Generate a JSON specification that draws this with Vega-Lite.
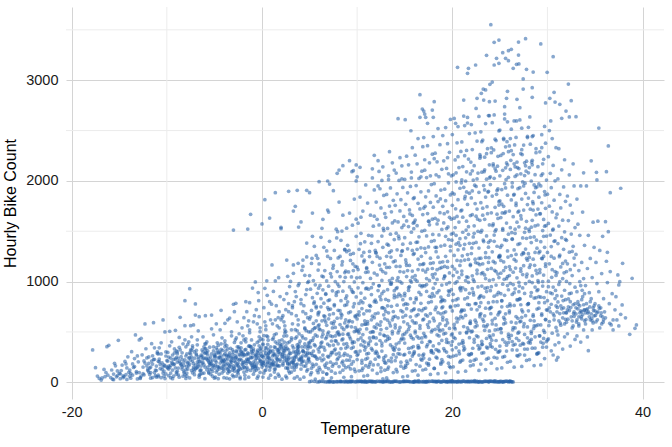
{
"$schema": "https://vega.github.io/schema/vega-lite/v6.json",
"width": 598,
"height": 392,
"autosize": {"type": "none"},
"padding": {"left": 66, "top": 7, "right": 8, "bottom": 48},
"config": {
"view": {"stroke": null},
"axis": {"domain": false, "ticks": false, "tickSize": 0, "labelFont": "Liberation Sans", "labelFontSize": 14.5, "labelColor": "#1a1a1a", "titleFont": "Liberation Sans", "titleFontSize": 16, "titleFontWeight": "normal", "titleColor": "#000000", "gridColor": "#d4d4d4", "gridWidth": 1, "labelExpr": "'' + datum.value"},
"axisX": {"labelPadding": 6, "titlePadding": 2},
"axisY": {"labelPadding": 8, "titlePadding": 7}
},
"layer": [
{
"data": {"values": [{"t": -10}, {"t": 10}, {"t": 30}]},
"mark": {"type": "rule", "color": "#ececec", "strokeWidth": 1},
"encoding": {"x": {"field": "t", "type": "quantitative", "title": "Temperature", "scale": {"domain": [-20.6, 42.25], "nice": false, "zero": false}, "axis": {"values": [-20, 0, 20, 40], "grid": true}}}
},
{
"data": {"values": [{"c": 500}, {"c": 1500}, {"c": 2500}, {"c": 3500}]},
"mark": {"type": "rule", "color": "#ececec", "strokeWidth": 1},
"encoding": {"y": {"field": "c", "type": "quantitative", "title": "Hourly Bike Count", "scale": {"domain": [-166, 3727], "nice": false, "zero": false}, "axis": {"values": [0, 1000, 2000, 3000], "grid": true}}}
},
{
"data": {"values": [
{"t":-17.8,"c":321},{"t":-17.5,"c":145},{"t":-17.3,"c":62},{"t":-17.1,"c":38},
{"t":-16.8,"c":43},{"t":-16.4,"c":97},{"t":-16.3,"c":354},{"t":-16.1,"c":367},{"t":-16.6,"c":128},{"t":-16.2,"c":71},{"t":-16.9,"c":22},{"t":-16.5,"c":56},
{"t":-15.9,"c":47},{"t":-15.2,"c":113},{"t":-15.6,"c":82},{"t":-15.4,"c":163},{"t":-15.1,"c":417},{"t":-15.7,"c":31},{"t":-15.3,"c":54},{"t":-15.8,"c":122},{"t":-15.5,"c":188},{"t":-15.0,"c":89},{"t":-15.6,"c":26},{"t":-15.2,"c":67},
{"t":-14.6,"c":63},{"t":-14.2,"c":142},{"t":-14.9,"c":36},{"t":-14.4,"c":207},{"t":-14.0,"c":99},{"t":-14.7,"c":171},{"t":-14.3,"c":76},{"t":-14.8,"c":117},{"t":-14.1,"c":253},{"t":-14.5,"c":57},{"t":-14.3,"c":182},{"t":-14.9,"c":84},{"t":-14.6,"c":45},{"t":-14.2,"c":28},
{"t":-13.2,"c":91},{"t":-13.8,"c":41},{"t":-13.4,"c":156},{"t":-13.3,"c":470},{"t":-13.9,"c":121},{"t":-13.1,"c":262},{"t":-13.6,"c":72},{"t":-13.0,"c":203},{"t":-13.7,"c":304},{"t":-13.5,"c":147},{"t":-13.2,"c":106},{"t":-13.9,"c":61},{"t":-13.4,"c":236},{"t":-13.6,"c":182},{"t":-13.1,"c":33},{"t":-13.8,"c":88},
{"t":-12.9,"c":420},{"t":-12.7,"c":437},{"t":-12.3,"c":579},{"t":-12.5,"c":86},{"t":-12.1,"c":162},{"t":-12.8,"c":46},{"t":-12.4,"c":212},{"t":-12.0,"c":131},{"t":-12.6,"c":273},{"t":-12.2,"c":333},{"t":-12.9,"c":96},{"t":-12.3,"c":191},{"t":-12.7,"c":62},{"t":-12.1,"c":242},{"t":-12.5,"c":151},{"t":-12.0,"c":116},{"t":-12.8,"c":38},{"t":-12.4,"c":74},
{"t":-11.4,"c":592},{"t":-11.8,"c":141},{"t":-11.2,"c":66},{"t":-11.6,"c":211},{"t":-11.0,"c":302},{"t":-11.5,"c":181},{"t":-11.9,"c":252},{"t":-11.3,"c":96},{"t":-11.7,"c":41},{"t":-11.1,"c":161},{"t":-11.6,"c":383},{"t":-11.2,"c":122},{"t":-11.8,"c":77},{"t":-11.0,"c":286},{"t":-11.4,"c":226},{"t":-11.7,"c":151},{"t":-11.3,"c":342},{"t":-11.9,"c":101},{"t":-11.1,"c":52},{"t":-11.5,"c":47},
{"t":-10.4,"c":619},{"t":-10.2,"c":500},{"t":-10.7,"c":136},{"t":-10.1,"c":261},{"t":-10.9,"c":71},{"t":-10.5,"c":192},{"t":-10.3,"c":111},{"t":-10.8,"c":342},{"t":-10.0,"c":216},{"t":-10.6,"c":46},{"t":-10.2,"c":162},{"t":-10.9,"c":281},{"t":-10.4,"c":91},{"t":-10.7,"c":176},{"t":-10.1,"c":302},{"t":-10.5,"c":126},{"t":-10.8,"c":231},{"t":-10.3,"c":61},{"t":-10.6,"c":392},{"t":-10.0,"c":151},{"t":-10.2,"c":37},{"t":-10.9,"c":208},
{"t":-9.7,"c":506},{"t":-9.1,"c":516},{"t":-9.4,"c":121},{"t":-9.8,"c":251},{"t":-9.2,"c":181},{"t":-9.6,"c":91},{"t":-9.0,"c":311},{"t":-9.5,"c":201},{"t":-9.9,"c":141},{"t":-9.3,"c":61},{"t":-9.7,"c":362},{"t":-9.1,"c":231},{"t":-9.8,"c":161},{"t":-9.4,"c":271},{"t":-9.0,"c":101},{"t":-9.6,"c":46},{"t":-9.2,"c":331},{"t":-9.9,"c":211},{"t":-9.5,"c":402},{"t":-9.3,"c":176},{"t":-9.8,"c":131},{"t":-9.0,"c":81},{"t":-9.6,"c":241},{"t":-9.2,"c":291},{"t":-9.4,"c":36},{"t":-9.7,"c":148},
{"t":-8.6,"c":645},{"t":-8.1,"c":810},{"t":-8.1,"c":562},{"t":-8.4,"c":152},{"t":-8.9,"c":281},{"t":-8.2,"c":96},{"t":-8.7,"c":211},{"t":-8.0,"c":352},{"t":-8.5,"c":171},{"t":-8.3,"c":61},{"t":-8.8,"c":241},{"t":-8.1,"c":422},{"t":-8.6,"c":191},{"t":-8.4,"c":131},{"t":-8.9,"c":302},{"t":-8.2,"c":111},{"t":-8.7,"c":51},{"t":-8.0,"c":261},{"t":-8.5,"c":181},{"t":-8.3,"c":382},{"t":-8.8,"c":141},{"t":-8.6,"c":322},{"t":-8.1,"c":76},{"t":-8.4,"c":226},{"t":-8.9,"c":201},{"t":-8.2,"c":166},{"t":-8.7,"c":445},{"t":-8.0,"c":38},
{"t":-7.6,"c":929},{"t":-7.5,"c":562},{"t":-7.2,"c":569},{"t":-7.0,"c":778},{"t":-7.0,"c":668},{"t":-7.3,"c":211},{"t":-7.8,"c":131},{"t":-7.1,"c":301},{"t":-7.6,"c":181},{"t":-7.9,"c":91},{"t":-7.4,"c":251},{"t":-7.7,"c":402},{"t":-7.2,"c":151},{"t":-7.5,"c":221},{"t":-7.9,"c":61},{"t":-7.3,"c":342},{"t":-7.8,"c":201},{"t":-7.1,"c":111},{"t":-7.6,"c":291},{"t":-7.4,"c":452},{"t":-7.7,"c":241},{"t":-7.0,"c":171},{"t":-7.5,"c":321},{"t":-7.2,"c":131},{"t":-7.9,"c":281},{"t":-7.3,"c":362},{"t":-7.8,"c":191},{"t":-7.1,"c":76},{"t":-7.6,"c":43},{"t":-7.4,"c":118},
{"t":-6.6,"c":652},{"t":-6.2,"c":231},{"t":-6.7,"c":161},{"t":-6.0,"c":331},{"t":-6.5,"c":121},{"t":-6.9,"c":271},{"t":-6.3,"c":191},{"t":-6.8,"c":422},{"t":-6.1,"c":91},{"t":-6.4,"c":251},{"t":-6.7,"c":181},{"t":-6.0,"c":382},{"t":-6.5,"c":211},{"t":-6.9,"c":141},{"t":-6.2,"c":301},{"t":-6.6,"c":71},{"t":-6.3,"c":261},{"t":-6.8,"c":201},{"t":-6.1,"c":352},{"t":-6.4,"c":161},{"t":-6.9,"c":281},{"t":-6.5,"c":111},{"t":-6.2,"c":452},{"t":-6.7,"c":231},{"t":-6.0,"c":151},{"t":-6.3,"c":321},{"t":-6.6,"c":51},{"t":-6.1,"c":241},{"t":-6.8,"c":372},{"t":-6.4,"c":121},{"t":-6.0,"c":36},{"t":-6.7,"c":511},
{"t":-5.95,"c":661},{"t":-5.3,"c":668},{"t":-5.2,"c":221},{"t":-5.7,"c":151},{"t":-5.1,"c":311},{"t":-5.6,"c":101},{"t":-5.0,"c":261},{"t":-5.4,"c":181},{"t":-5.8,"c":402},{"t":-5.3,"c":131},{"t":-5.9,"c":241},{"t":-5.5,"c":191},{"t":-5.1,"c":352},{"t":-5.6,"c":201},{"t":-5.0,"c":141},{"t":-5.8,"c":291},{"t":-5.2,"c":61},{"t":-5.7,"c":271},{"t":-5.4,"c":211},{"t":-5.9,"c":332},{"t":-5.5,"c":171},{"t":-5.3,"c":281},{"t":-5.6,"c":91},{"t":-5.1,"c":472},{"t":-5.8,"c":231},{"t":-5.2,"c":161},{"t":-5.7,"c":311},{"t":-5.0,"c":41},{"t":-5.4,"c":251},{"t":-5.9,"c":382},{"t":-5.5,"c":126},{"t":-5.3,"c":531},
{"t":-4.3,"c":715},{"t":-4.8,"c":201},{"t":-4.2,"c":141},{"t":-4.6,"c":291},{"t":-4.0,"c":111},{"t":-4.5,"c":251},{"t":-4.9,"c":171},{"t":-4.3,"c":382},{"t":-4.7,"c":121},{"t":-4.1,"c":231},{"t":-4.4,"c":191},{"t":-4.8,"c":342},{"t":-4.2,"c":211},{"t":-4.6,"c":151},{"t":-4.0,"c":271},{"t":-4.5,"c":81},{"t":-4.9,"c":261},{"t":-4.3,"c":221},{"t":-4.7,"c":322},{"t":-4.1,"c":161},{"t":-4.4,"c":291},{"t":-4.8,"c":101},{"t":-4.2,"c":442},{"t":-4.6,"c":241},{"t":-4.0,"c":171},{"t":-4.5,"c":301},{"t":-4.9,"c":51},{"t":-4.3,"c":261},{"t":-4.7,"c":392},{"t":-4.1,"c":131},{"t":-4.4,"c":521},{"t":-4.8,"c":581},{"t":-4.0,"c":46},{"t":-4.6,"c":36},
{"t":-3.9,"c":586},{"t":-3.4,"c":638},{"t":-3.0,"c":775},{"t":-3.0,"c":1512},{"t":-3.6,"c":231},{"t":-3.2,"c":151},{"t":-3.8,"c":311},{"t":-3.1,"c":121},{"t":-3.7,"c":271},{"t":-3.3,"c":181},{"t":-3.9,"c":412},{"t":-3.5,"c":111},{"t":-3.0,"c":241},{"t":-3.6,"c":331},{"t":-3.2,"c":201},{"t":-3.8,"c":141},{"t":-3.4,"c":291},{"t":-3.1,"c":71},{"t":-3.7,"c":261},{"t":-3.3,"c":211},{"t":-3.9,"c":352},{"t":-3.5,"c":171},{"t":-3.0,"c":301},{"t":-3.6,"c":91},{"t":-3.2,"c":462},{"t":-3.8,"c":231},{"t":-3.4,"c":161},{"t":-3.1,"c":321},{"t":-3.7,"c":41},{"t":-3.3,"c":251},{"t":-3.9,"c":382},{"t":-3.5,"c":141},{"t":-3.2,"c":501},{"t":-3.6,"c":621},{"t":-3.0,"c":56},{"t":-3.4,"c":34},
{"t":-2.75,"c":784},{"t":-2.4,"c":221},{"t":-2.9,"c":141},{"t":-2.2,"c":301},{"t":-2.6,"c":101},{"t":-2.0,"c":261},{"t":-2.5,"c":191},{"t":-2.8,"c":422},{"t":-2.3,"c":131},{"t":-2.7,"c":251},{"t":-2.1,"c":181},{"t":-2.6,"c":352},{"t":-2.9,"c":211},{"t":-2.4,"c":151},{"t":-2.0,"c":291},{"t":-2.7,"c":61},{"t":-2.3,"c":271},{"t":-2.8,"c":201},{"t":-2.2,"c":342},{"t":-2.5,"c":161},{"t":-2.1,"c":281},{"t":-2.9,"c":111},{"t":-2.4,"c":482},{"t":-2.6,"c":231},{"t":-2.0,"c":171},{"t":-2.7,"c":311},{"t":-2.3,"c":51},{"t":-2.8,"c":241},{"t":-2.2,"c":392},{"t":-2.5,"c":121},{"t":-2.1,"c":541},{"t":-2.6,"c":601},{"t":-2.9,"c":701},{"t":-2.0,"c":461},{"t":-2.4,"c":331},{"t":-2.7,"c":441},{"t":-2.3,"c":36},{"t":-2.5,"c":86},
{"t":-1.5,"c":1522},{"t":-1.2,"c":1668},{"t":-1.7,"c":800},{"t":-1.3,"c":790},{"t":-1.0,"c":936},{"t":-1.4,"c":231},{"t":-1.9,"c":151},{"t":-1.1,"c":321},{"t":-1.6,"c":111},{"t":-1.8,"c":271},{"t":-1.2,"c":191},{"t":-1.7,"c":432},{"t":-1.5,"c":131},{"t":-1.0,"c":251},{"t":-1.3,"c":361},{"t":-1.9,"c":201},{"t":-1.6,"c":151},{"t":-1.1,"c":301},{"t":-1.8,"c":71},{"t":-1.4,"c":281},{"t":-1.7,"c":211},{"t":-1.2,"c":352},{"t":-1.0,"c":171},{"t":-1.5,"c":291},{"t":-1.9,"c":101},{"t":-1.3,"c":492},{"t":-1.6,"c":231},{"t":-1.1,"c":171},{"t":-1.8,"c":321},{"t":-1.4,"c":51},{"t":-1.2,"c":251},{"t":-1.7,"c":402},{"t":-1.0,"c":141},{"t":-1.5,"c":561},{"t":-1.9,"c":641},{"t":-1.3,"c":521},{"t":-1.6,"c":701},{"t":-1.1,"c":421},{"t":-1.8,"c":36},{"t":-1.4,"c":611},
{"t":-0.7,"c":996},{"t":-0.35,"c":810},{"t":-0.4,"c":241},{"t":-0.8,"c":161},{"t":-0.2,"c":331},{"t":-0.6,"c":121},{"t":-0.1,"c":281},{"t":-0.9,"c":201},{"t":-0.3,"c":452},{"t":-0.7,"c":141},{"t":0.0,"c":261},{"t":-0.5,"c":191},{"t":-0.8,"c":372},{"t":-0.2,"c":211},{"t":-0.6,"c":161},{"t":-0.1,"c":311},{"t":-0.9,"c":81},{"t":-0.4,"c":291},{"t":-0.7,"c":221},{"t":-0.3,"c":362},{"t":0.0,"c":181},{"t":-0.5,"c":301},{"t":-0.8,"c":111},{"t":-0.2,"c":502},{"t":-0.6,"c":241},{"t":-0.1,"c":181},{"t":-0.9,"c":331},{"t":-0.4,"c":61},{"t":-0.7,"c":261},{"t":-0.3,"c":412},{"t":0.0,"c":151},{"t":-0.5,"c":581},{"t":-0.8,"c":661},{"t":-0.2,"c":541},{"t":-0.6,"c":721},{"t":-0.1,"c":431},{"t":-0.9,"c":601},{"t":-0.4,"c":891},{"t":0.0,"c":1572},{"t":-0.3,"c":651},{"t":-0.5,"c":41},{"t":-0.2,"c":98},
{"t":0.3,"c":1813},{"t":0.8,"c":1631},{"t":0.3,"c":933},{"t":0.55,"c":864},{"t":0.8,"c":800},{"t":0.6,"c":251},{"t":0.1,"c":171},{"t":0.9,"c":352},{"t":0.4,"c":121},{"t":0.7,"c":291},{"t":0.2,"c":211},{"t":0.5,"c":462},{"t":0.9,"c":151},{"t":0.3,"c":271},{"t":0.6,"c":201},{"t":0.1,"c":382},{"t":0.8,"c":221},{"t":0.4,"c":171},{"t":0.7,"c":321},{"t":0.2,"c":91},{"t":0.9,"c":301},{"t":0.5,"c":231},{"t":0.1,"c":372},{"t":0.6,"c":191},{"t":0.3,"c":311},{"t":0.8,"c":121},{"t":0.4,"c":522},{"t":0.7,"c":251},{"t":0.2,"c":191},{"t":0.5,"c":341},{"t":0.9,"c":71},{"t":0.6,"c":271},{"t":0.1,"c":422},{"t":0.8,"c":161},{"t":0.3,"c":601},{"t":0.7,"c":681},{"t":0.4,"c":561},{"t":0.2,"c":741},{"t":0.6,"c":451},{"t":0.9,"c":621},{"t":0.5,"c":1008},{"t":0.1,"c":52},{"t":0.7,"c":41},
{"t":1.05,"c":1165},{"t":1.4,"c":1883},{"t":1.4,"c":1006},{"t":1.75,"c":1039},{"t":1.6,"c":261},{"t":1.2,"c":181},{"t":1.9,"c":362},{"t":1.3,"c":131},{"t":1.8,"c":301},{"t":1.1,"c":221},{"t":1.5,"c":482},{"t":1.7,"c":161},{"t":1.2,"c":281},{"t":1.9,"c":211},{"t":1.4,"c":402},{"t":1.6,"c":231},{"t":1.1,"c":181},{"t":1.8,"c":331},{"t":1.3,"c":101},{"t":1.7,"c":321},{"t":1.5,"c":241},{"t":1.9,"c":382},{"t":1.2,"c":201},{"t":1.6,"c":321},{"t":1.4,"c":131},{"t":1.8,"c":541},{"t":1.1,"c":261},{"t":1.5,"c":201},{"t":1.3,"c":351},{"t":1.7,"c":81},{"t":1.9,"c":281},{"t":1.2,"c":441},{"t":1.6,"c":171},{"t":1.4,"c":621},{"t":1.8,"c":701},{"t":1.1,"c":581},{"t":1.5,"c":761},{"t":1.3,"c":471},{"t":1.7,"c":641},{"t":1.9,"c":851},{"t":2.0,"c":1525},{"t":2.0,"c":1539},{"t":1.2,"c":902},{"t":1.6,"c":561},{"t":1.4,"c":46},{"t":1.8,"c":61},{"t":1.0,"c":776},
{"t":2.6,"c":1214},{"t":2.8,"c":1897},{"t":2.4,"c":271},{"t":2.9,"c":191},{"t":2.1,"c":372},{"t":2.7,"c":141},{"t":2.3,"c":311},{"t":2.8,"c":231},{"t":2.5,"c":502},{"t":2.2,"c":171},{"t":2.9,"c":291},{"t":2.6,"c":221},{"t":2.1,"c":422},{"t":2.4,"c":241},{"t":2.7,"c":191},{"t":2.3,"c":341},{"t":2.8,"c":111},{"t":2.5,"c":331},{"t":2.2,"c":251},{"t":2.9,"c":402},{"t":2.6,"c":211},{"t":2.1,"c":331},{"t":2.7,"c":141},{"t":2.4,"c":561},{"t":2.8,"c":271},{"t":2.3,"c":211},{"t":2.5,"c":361},{"t":2.9,"c":91},{"t":2.2,"c":291},{"t":2.6,"c":461},{"t":2.7,"c":181},{"t":2.1,"c":641},{"t":2.5,"c":721},{"t":2.3,"c":601},{"t":2.8,"c":781},{"t":2.4,"c":491},{"t":2.2,"c":661},{"t":2.6,"c":881},{"t":2.9,"c":951},{"t":2.7,"c":1052},{"t":2.3,"c":821},{"t":2.5,"c":61},{"t":2.1,"c":31},{"t":2.8,"c":701},{"t":2.4,"c":521},{"t":2.0,"c":621},{"t":2.6,"c":43},
{"t":3.3,"c":1701},{"t":3.5,"c":1748},{"t":3.3,"c":1165},{"t":3.8,"c":1182},{"t":3.7,"c":1907},{"t":3.85,"c":1542},{"t":3.6,"c":281},{"t":3.1,"c":201},{"t":3.9,"c":382},{"t":3.4,"c":151},{"t":3.8,"c":321},{"t":3.2,"c":241},{"t":3.5,"c":522},{"t":3.7,"c":181},{"t":3.3,"c":301},{"t":3.9,"c":231},{"t":3.1,"c":442},{"t":3.6,"c":251},{"t":3.2,"c":201},{"t":3.8,"c":351},{"t":3.4,"c":121},{"t":3.7,"c":341},{"t":3.5,"c":261},{"t":3.1,"c":422},{"t":3.9,"c":221},{"t":3.3,"c":341},{"t":3.6,"c":151},{"t":3.2,"c":581},{"t":3.8,"c":281},{"t":3.4,"c":221},{"t":3.7,"c":371},{"t":3.1,"c":101},{"t":3.5,"c":301},{"t":3.9,"c":481},{"t":3.3,"c":191},{"t":3.6,"c":661},{"t":3.2,"c":741},{"t":3.8,"c":621},{"t":3.4,"c":801},{"t":3.7,"c":511},{"t":3.1,"c":681},{"t":3.5,"c":901},{"t":3.9,"c":981},{"t":3.3,"c":1082},{"t":3.6,"c":851},{"t":3.4,"c":41},{"t":3.8,"c":961},{"t":3.2,"c":761},{"t":3.0,"c":1002},{"t":3.7,"c":56},
{"t":4.1,"c":1592},{"t":4.3,"c":1214},{"t":4.7,"c":1907},{"t":4.7,"c":1383},{"t":5.0,"c":1883},{"t":4.6,"c":291},{"t":4.2,"c":211},{"t":4.9,"c":392},{"t":4.4,"c":161},{"t":4.8,"c":331},{"t":4.1,"c":251},{"t":4.5,"c":541},{"t":4.7,"c":191},{"t":4.3,"c":311},{"t":4.9,"c":241},{"t":4.2,"c":461},{"t":4.6,"c":261},{"t":4.4,"c":211},{"t":4.8,"c":361},{"t":4.1,"c":131},{"t":4.5,"c":351},{"t":4.7,"c":271},{"t":4.3,"c":441},{"t":4.9,"c":231},{"t":4.2,"c":351},{"t":4.6,"c":161},{"t":4.4,"c":601},{"t":4.8,"c":291},{"t":4.1,"c":231},{"t":4.5,"c":381},{"t":4.7,"c":111},{"t":4.3,"c":311},{"t":4.9,"c":501},{"t":4.2,"c":201},{"t":4.6,"c":681},{"t":4.4,"c":761},{"t":4.8,"c":641},{"t":4.1,"c":821},{"t":4.5,"c":531},{"t":4.3,"c":701},{"t":4.7,"c":921},{"t":4.9,"c":1002},{"t":4.2,"c":1112},{"t":4.6,"c":871},{"t":4.4,"c":51},{"t":4.8,"c":991},{"t":4.1,"c":781},{"t":4.5,"c":1062},{"t":4.3,"c":1151},{"t":4.0,"c":31},{"t":4.7,"c":1245},
{"t":5.3,"c":1681},{"t":5.25,"c":1231},{"t":5.85,"c":1231},{"t":5.6,"c":32},{"t":5.1,"c":75},{"t":5.8,"c":118},{"t":5.4,"c":160},{"t":5.0,"c":203},{"t":5.7,"c":245},{"t":5.2,"c":288},{"t":5.9,"c":330},{"t":5.5,"c":373},{"t":5.3,"c":415},{"t":5.8,"c":458},{"t":5.1,"c":500},{"t":5.6,"c":543},{"t":5.4,"c":585},{"t":5.0,"c":628},{"t":5.9,"c":670},{"t":5.2,"c":713},{"t":5.7,"c":755},{"t":5.5,"c":798},{"t":5.3,"c":840},{"t":5.8,"c":883},{"t":5.1,"c":925},{"t":5.6,"c":968},{"t":5.4,"c":1010},{"t":5.0,"c":1060},{"t":5.9,"c":1115},{"t":5.2,"c":1180},{"t":5.7,"c":1260},{"t":5.5,"c":1350},{"t":5.3,"c":1450},{"t":5.2,"c":140},{"t":5.8,"c":230},{"t":5.4,"c":310},{"t":5.0,"c":390},{"t":5.6,"c":470},{"t":5.9,"c":560},{"t":5.1,"c":650},{"t":5.7,"c":740},{"t":5.3,"c":180},{"t":5.5,"c":260},{"t":5.0,"c":6},{"t":5.5,"c":10},{"t":5.8,"c":4},{"t":5.2,"c":12},{"t":5.6,"c":260},{"t":5.9,"c":95},{"t":5.4,"c":440},{"t":5.1,"c":350},{"t":5.7,"c":610},{"t":5.3,"c":520},
{"t":6.0,"c":1992},{"t":6.9,"c":1999},{"t":6.3,"c":1529},{"t":6.4,"c":1619},{"t":6.9,"c":1711},{"t":6.8,"c":1304},{"t":6.4,"c":38},{"t":6.8,"c":82},{"t":6.1,"c":126},{"t":6.6,"c":170},{"t":6.3,"c":214},{"t":6.9,"c":258},{"t":6.0,"c":302},{"t":6.5,"c":346},{"t":6.2,"c":390},{"t":6.7,"c":434},{"t":6.4,"c":478},{"t":6.1,"c":522},{"t":6.8,"c":566},{"t":6.3,"c":610},{"t":6.6,"c":654},{"t":6.0,"c":698},{"t":6.9,"c":742},{"t":6.5,"c":786},{"t":6.2,"c":830},{"t":6.7,"c":874},{"t":6.4,"c":918},{"t":6.1,"c":962},{"t":6.8,"c":1006},{"t":6.3,"c":1055},{"t":6.6,"c":1110},{"t":6.0,"c":1175},{"t":6.9,"c":1250},{"t":6.5,"c":1340},{"t":6.2,"c":1440},{"t":6.7,"c":150},{"t":6.1,"c":240},{"t":6.6,"c":320},{"t":6.3,"c":400},{"t":6.9,"c":480},{"t":6.0,"c":570},{"t":6.5,"c":660},{"t":6.2,"c":750},{"t":6.8,"c":190},{"t":6.4,"c":270},{"t":6.0,"c":5},{"t":6.3,"c":9},{"t":6.7,"c":3},{"t":6.1,"c":11},{"t":6.5,"c":7},{"t":6.9,"c":4},{"t":6.4,"c":100},{"t":6.8,"c":450},{"t":6.2,"c":360},{"t":6.6,"c":620},{"t":6.0,"c":530},{"t":6.7,"c":880},
{"t":7.1,"c":1969},{"t":7.0,"c":1691},{"t":7.5,"c":1903},{"t":7.85,"c":1433},{"t":7.95,"c":1496},{"t":7.9,"c":2075},{"t":7.3,"c":44},{"t":7.7,"c":90},{"t":7.0,"c":135},{"t":7.5,"c":181},{"t":7.9,"c":226},{"t":7.2,"c":272},{"t":7.6,"c":317},{"t":7.1,"c":363},{"t":7.8,"c":408},{"t":7.4,"c":454},{"t":7.0,"c":499},{"t":7.7,"c":545},{"t":7.3,"c":590},{"t":7.9,"c":636},{"t":7.5,"c":681},{"t":7.2,"c":727},{"t":7.6,"c":772},{"t":7.1,"c":818},{"t":7.8,"c":863},{"t":7.4,"c":909},{"t":7.0,"c":954},{"t":7.7,"c":1000},{"t":7.3,"c":1048},{"t":7.9,"c":1100},{"t":7.5,"c":1160},{"t":7.2,"c":1230},{"t":7.6,"c":1310},{"t":7.1,"c":1400},{"t":7.8,"c":1520},{"t":7.4,"c":160},{"t":7.0,"c":250},{"t":7.7,"c":330},{"t":7.3,"c":410},{"t":7.9,"c":490},{"t":7.5,"c":580},{"t":7.1,"c":670},{"t":7.6,"c":760},{"t":7.2,"c":200},{"t":7.8,"c":280},{"t":7.4,"c":5},{"t":7.0,"c":9},{"t":7.6,"c":3},{"t":7.2,"c":12},{"t":7.8,"c":7},{"t":7.5,"c":4},{"t":7.1,"c":10},{"t":7.9,"c":6},{"t":7.3,"c":110},{"t":7.7,"c":460},{"t":7.5,"c":370},{"t":7.0,"c":630},{"t":7.4,"c":540},{"t":7.8,"c":890},{"t":7.2,"c":1080},
{"t":8.1,"c":2108},{"t":8.5,"c":2151},{"t":8.4,"c":1502},{"t":8.7,"c":1314},{"t":8.9,"c":1297},{"t":8.6,"c":50},{"t":8.2,"c":98},{"t":8.8,"c":145},{"t":8.4,"c":193},{"t":8.0,"c":240},{"t":8.7,"c":288},{"t":8.3,"c":335},{"t":8.9,"c":383},{"t":8.5,"c":430},{"t":8.1,"c":478},{"t":8.6,"c":525},{"t":8.2,"c":573},{"t":8.8,"c":620},{"t":8.4,"c":668},{"t":8.0,"c":715},{"t":8.7,"c":763},{"t":8.3,"c":810},{"t":8.9,"c":858},{"t":8.5,"c":905},{"t":8.1,"c":953},{"t":8.6,"c":1000},{"t":8.2,"c":1050},{"t":8.8,"c":1105},{"t":8.4,"c":1165},{"t":8.0,"c":1235},{"t":8.7,"c":1320},{"t":8.3,"c":1410},{"t":8.9,"c":1530},{"t":8.5,"c":1660},{"t":8.1,"c":1790},{"t":8.6,"c":170},{"t":8.2,"c":260},{"t":8.8,"c":340},{"t":8.4,"c":420},{"t":8.0,"c":500},{"t":8.7,"c":590},{"t":8.3,"c":680},{"t":8.9,"c":770},{"t":8.5,"c":210},{"t":8.1,"c":290},{"t":8.0,"c":6},{"t":8.3,"c":10},{"t":8.6,"c":4},{"t":8.9,"c":12},{"t":8.2,"c":8},{"t":8.8,"c":3},{"t":8.4,"c":7},{"t":8.7,"c":11},{"t":8.5,"c":120},{"t":8.1,"c":470},{"t":8.6,"c":380},{"t":8.3,"c":640},{"t":8.9,"c":550},{"t":8.0,"c":900},{"t":8.7,"c":1090},{"t":8.2,"c":1250},
{"t":9.2,"c":2201},{"t":9.45,"c":2091},{"t":9.9,"c":2000},{"t":9.6,"c":2101},{"t":9.9,"c":2158},{"t":9.4,"c":56},{"t":9.8,"c":106},{"t":9.1,"c":155},{"t":9.6,"c":205},{"t":9.3,"c":254},{"t":9.9,"c":304},{"t":9.0,"c":353},{"t":9.5,"c":403},{"t":9.2,"c":452},{"t":9.7,"c":502},{"t":9.4,"c":551},{"t":9.1,"c":601},{"t":9.8,"c":650},{"t":9.3,"c":700},{"t":9.6,"c":749},{"t":9.0,"c":799},{"t":9.9,"c":848},{"t":9.5,"c":898},{"t":9.2,"c":947},{"t":9.7,"c":997},{"t":9.4,"c":1046},{"t":9.1,"c":1096},{"t":9.8,"c":1150},{"t":9.3,"c":1210},{"t":9.6,"c":1280},{"t":9.0,"c":1360},{"t":9.9,"c":1450},{"t":9.5,"c":1560},{"t":9.2,"c":1680},{"t":9.7,"c":1820},{"t":9.4,"c":180},{"t":9.0,"c":270},{"t":9.6,"c":350},{"t":9.3,"c":430},{"t":9.9,"c":510},{"t":9.5,"c":600},{"t":9.1,"c":690},{"t":9.7,"c":780},{"t":9.2,"c":220},{"t":9.8,"c":300},{"t":9.0,"c":5},{"t":9.4,"c":9},{"t":9.8,"c":3},{"t":9.2,"c":11},{"t":9.6,"c":7},{"t":9.1,"c":4},{"t":9.5,"c":12},{"t":9.9,"c":6},{"t":9.3,"c":8},{"t":9.7,"c":130},{"t":9.1,"c":480},{"t":9.5,"c":390},{"t":9.8,"c":660},{"t":9.0,"c":560},{"t":9.4,"c":920},{"t":9.6,"c":1110},{"t":9.3,"c":1270},{"t":9.9,"c":1620},
{"t":10.3,"c":2135},{"t":10.7,"c":62},{"t":10.2,"c":114},{"t":10.9,"c":165},{"t":10.5,"c":217},{"t":10.0,"c":268},{"t":10.8,"c":320},{"t":10.4,"c":371},{"t":10.1,"c":423},{"t":10.6,"c":474},{"t":10.3,"c":526},{"t":10.9,"c":577},{"t":10.0,"c":629},{"t":10.7,"c":680},{"t":10.5,"c":732},{"t":10.2,"c":783},{"t":10.8,"c":835},{"t":10.4,"c":886},{"t":10.1,"c":938},{"t":10.6,"c":989},{"t":10.3,"c":1041},{"t":10.9,"c":1092},{"t":10.0,"c":1144},{"t":10.7,"c":1196},{"t":10.5,"c":1255},{"t":10.2,"c":1320},{"t":10.8,"c":1395},{"t":10.4,"c":1480},{"t":10.1,"c":1580},{"t":10.6,"c":1700},{"t":10.3,"c":1840},{"t":10.9,"c":1960},{"t":10.5,"c":190},{"t":10.1,"c":280},{"t":10.7,"c":360},{"t":10.4,"c":440},{"t":10.0,"c":520},{"t":10.8,"c":610},{"t":10.2,"c":700},{"t":10.6,"c":790},{"t":10.9,"c":230},{"t":10.3,"c":310},{"t":10.1,"c":6},{"t":10.5,"c":10},{"t":10.9,"c":4},{"t":10.2,"c":8},{"t":10.6,"c":3},{"t":10.0,"c":12},{"t":10.4,"c":7},{"t":10.8,"c":5},{"t":10.3,"c":11},{"t":10.7,"c":9},{"t":10.6,"c":140},{"t":10.2,"c":490},{"t":10.8,"c":400},{"t":10.0,"c":670},{"t":10.5,"c":570},{"t":10.9,"c":930},{"t":10.1,"c":1120},{"t":10.7,"c":1290},{"t":10.4,"c":1640},{"t":10.0,"c":2040},
{"t":11.8,"c":2254},{"t":11.1,"c":68},{"t":11.6,"c":122},{"t":11.3,"c":175},{"t":11.9,"c":229},{"t":11.0,"c":282},{"t":11.5,"c":336},{"t":11.2,"c":389},{"t":11.7,"c":443},{"t":11.4,"c":496},{"t":11.8,"c":550},{"t":11.1,"c":603},{"t":11.6,"c":657},{"t":11.0,"c":710},{"t":11.3,"c":764},{"t":11.9,"c":817},{"t":11.5,"c":871},{"t":11.2,"c":924},{"t":11.7,"c":978},{"t":11.4,"c":1031},{"t":11.8,"c":1085},{"t":11.0,"c":1138},{"t":11.6,"c":1192},{"t":11.3,"c":1248},{"t":11.9,"c":1310},{"t":11.5,"c":1380},{"t":11.2,"c":1460},{"t":11.7,"c":1550},{"t":11.4,"c":1660},{"t":11.1,"c":1780},{"t":11.8,"c":1910},{"t":11.6,"c":2030},{"t":11.4,"c":200},{"t":11.9,"c":290},{"t":11.2,"c":370},{"t":11.7,"c":450},{"t":11.0,"c":530},{"t":11.5,"c":620},{"t":11.3,"c":710},{"t":11.8,"c":800},{"t":11.1,"c":240},{"t":11.6,"c":320},{"t":11.0,"c":5},{"t":11.4,"c":9},{"t":11.8,"c":3},{"t":11.2,"c":11},{"t":11.6,"c":7},{"t":11.1,"c":4},{"t":11.5,"c":12},{"t":11.9,"c":6},{"t":11.3,"c":8},{"t":11.7,"c":10},{"t":11.2,"c":150},{"t":11.7,"c":500},{"t":11.4,"c":410},{"t":11.9,"c":680},{"t":11.1,"c":580},{"t":11.5,"c":940},{"t":11.0,"c":1130},{"t":11.3,"c":1300},{"t":11.8,"c":1650},{"t":11.6,"c":2120},
{"t":12.2,"c":2201},{"t":12.7,"c":35},{"t":12.1,"c":88},{"t":12.5,"c":142},{"t":12.9,"c":197},{"t":12.3,"c":251},{"t":12.0,"c":306},{"t":12.6,"c":362},{"t":12.4,"c":415},{"t":12.8,"c":468},{"t":12.5,"c":523},{"t":12.1,"c":577},{"t":12.9,"c":631},{"t":12.2,"c":688},{"t":12.7,"c":742},{"t":12.0,"c":795},{"t":12.4,"c":851},{"t":12.8,"c":903},{"t":12.3,"c":958},{"t":12.6,"c":1012},{"t":12.1,"c":1066},{"t":12.5,"c":1121},{"t":12.9,"c":1177},{"t":12.4,"c":1232},{"t":12.0,"c":1286},{"t":12.7,"c":1341},{"t":12.2,"c":1398},{"t":12.6,"c":1452},{"t":12.8,"c":1507},{"t":12.3,"c":1563},{"t":12.1,"c":1618},{"t":12.9,"c":1675},{"t":12.5,"c":1731},{"t":12.0,"c":1790},{"t":12.8,"c":1856},{"t":12.4,"c":1922},{"t":12.6,"c":2005},{"t":12.3,"c":2094},{"t":12.9,"c":120},{"t":12.2,"c":260},{"t":12.6,"c":390},{"t":12.0,"c":540},{"t":12.8,"c":670},{"t":12.5,"c":820},{"t":12.3,"c":960},{"t":12.7,"c":1100},{"t":12.1,"c":1250},{"t":12.4,"c":480},{"t":12.9,"c":730},{"t":12.6,"c":310},{"t":12.0,"c":5},{"t":12.3,"c":9},{"t":12.7,"c":3},{"t":12.1,"c":12},{"t":12.5,"c":7},{"t":12.8,"c":4},{"t":12.4,"c":8},{"t":12.9,"c":11},{"t":12.2,"c":1950},{"t":12.7,"c":2140},{"t":12.5,"c":600},{"t":12.2,"c":175},{"t":12.8,"c":220},{"t":12.0,"c":440},{"t":12.6,"c":880},
{"t":13.4,"c":2290},{"t":13.1,"c":45},{"t":13.8,"c":96},{"t":13.3,"c":151},{"t":13.6,"c":205},{"t":13.0,"c":262},{"t":13.9,"c":318},{"t":13.5,"c":371},{"t":13.2,"c":426},{"t":13.7,"c":481},{"t":13.1,"c":536},{"t":13.4,"c":590},{"t":13.8,"c":646},{"t":13.0,"c":702},{"t":13.6,"c":755},{"t":13.3,"c":811},{"t":13.9,"c":866},{"t":13.2,"c":920},{"t":13.5,"c":976},{"t":13.7,"c":1031},{"t":13.0,"c":1085},{"t":13.4,"c":1142},{"t":13.8,"c":1196},{"t":13.1,"c":1251},{"t":13.6,"c":1306},{"t":13.3,"c":1362},{"t":13.9,"c":1417},{"t":13.5,"c":1471},{"t":13.2,"c":1528},{"t":13.7,"c":1583},{"t":13.0,"c":1638},{"t":13.6,"c":1693},{"t":13.4,"c":1750},{"t":13.8,"c":1807},{"t":13.1,"c":1866},{"t":13.5,"c":1930},{"t":13.3,"c":2012},{"t":13.9,"c":2108},{"t":13.7,"c":2180},{"t":13.2,"c":130},{"t":13.8,"c":275},{"t":13.0,"c":410},{"t":13.5,"c":560},{"t":13.3,"c":690},{"t":13.9,"c":840},{"t":13.6,"c":990},{"t":13.1,"c":1140},{"t":13.4,"c":1290},{"t":13.7,"c":505},{"t":13.2,"c":760},{"t":13.8,"c":330},{"t":13.0,"c":7},{"t":13.4,"c":4},{"t":13.8,"c":10},{"t":13.2,"c":6},{"t":13.6,"c":3},{"t":13.9,"c":9},{"t":13.1,"c":12},{"t":13.5,"c":5},{"t":13.3,"c":2050},{"t":13.7,"c":620},{"t":13.0,"c":190},{"t":13.6,"c":240},{"t":13.2,"c":455},{"t":13.9,"c":910},{"t":13.4,"c":1010},
{"t":14.3,"c":2618},{"t":14.8,"c":55},{"t":14.2,"c":104},{"t":14.6,"c":160},{"t":14.0,"c":214},{"t":14.9,"c":271},{"t":14.4,"c":327},{"t":14.1,"c":380},{"t":14.7,"c":435},{"t":14.3,"c":490},{"t":14.5,"c":545},{"t":14.9,"c":600},{"t":14.0,"c":655},{"t":14.6,"c":711},{"t":14.2,"c":766},{"t":14.8,"c":820},{"t":14.4,"c":875},{"t":14.1,"c":930},{"t":14.7,"c":985},{"t":14.3,"c":1040},{"t":14.9,"c":1095},{"t":14.5,"c":1151},{"t":14.0,"c":1205},{"t":14.6,"c":1260},{"t":14.2,"c":1316},{"t":14.8,"c":1371},{"t":14.4,"c":1426},{"t":14.1,"c":1481},{"t":14.7,"c":1536},{"t":14.3,"c":1592},{"t":14.9,"c":1647},{"t":14.5,"c":1702},{"t":14.0,"c":1758},{"t":14.6,"c":1814},{"t":14.2,"c":1872},{"t":14.8,"c":1935},{"t":14.4,"c":2005},{"t":14.1,"c":2078},{"t":14.7,"c":2150},{"t":14.5,"c":2230},{"t":14.9,"c":140},{"t":14.3,"c":285},{"t":14.6,"c":420},{"t":14.0,"c":570},{"t":14.8,"c":700},{"t":14.2,"c":850},{"t":14.5,"c":1000},{"t":14.1,"c":1150},{"t":14.7,"c":1300},{"t":14.4,"c":515},{"t":14.9,"c":770},{"t":14.0,"c":345},{"t":14.2,"c":8},{"t":14.6,"c":5},{"t":14.0,"c":11},{"t":14.4,"c":3},{"t":14.8,"c":7},{"t":14.1,"c":9},{"t":14.5,"c":4},{"t":14.9,"c":12},{"t":14.7,"c":2020},{"t":14.3,"c":640},{"t":14.6,"c":200},{"t":14.1,"c":250},{"t":14.8,"c":470},{"t":14.2,"c":940},{"t":14.5,"c":1100},{"t":14.9,"c":1560},
{"t":15.05,"c":2608},{"t":15.65,"c":2498},{"t":15.3,"c":62},{"t":15.8,"c":112},{"t":15.1,"c":168},{"t":15.6,"c":222},{"t":15.9,"c":280},{"t":15.4,"c":336},{"t":15.0,"c":389},{"t":15.7,"c":445},{"t":15.2,"c":500},{"t":15.5,"c":554},{"t":15.8,"c":610},{"t":15.1,"c":664},{"t":15.9,"c":720},{"t":15.3,"c":775},{"t":15.6,"c":830},{"t":15.0,"c":884},{"t":15.4,"c":940},{"t":15.7,"c":995},{"t":15.2,"c":1050},{"t":15.8,"c":1105},{"t":15.5,"c":1160},{"t":15.1,"c":1215},{"t":15.9,"c":1270},{"t":15.3,"c":1326},{"t":15.6,"c":1381},{"t":15.0,"c":1436},{"t":15.7,"c":1491},{"t":15.4,"c":1546},{"t":15.2,"c":1602},{"t":15.8,"c":1657},{"t":15.5,"c":1712},{"t":15.1,"c":1768},{"t":15.9,"c":1824},{"t":15.3,"c":1882},{"t":15.6,"c":1945},{"t":15.0,"c":2015},{"t":15.7,"c":2088},{"t":15.4,"c":2160},{"t":15.2,"c":2245},{"t":15.8,"c":2330},{"t":15.1,"c":150},{"t":15.5,"c":295},{"t":15.9,"c":430},{"t":15.3,"c":580},{"t":15.7,"c":710},{"t":15.0,"c":860},{"t":15.6,"c":1010},{"t":15.2,"c":1160},{"t":15.8,"c":1310},{"t":15.4,"c":525},{"t":15.1,"c":780},{"t":15.9,"c":355},{"t":15.0,"c":6},{"t":15.4,"c":10},{"t":15.8,"c":3},{"t":15.2,"c":8},{"t":15.6,"c":5},{"t":15.1,"c":11},{"t":15.5,"c":7},{"t":15.9,"c":4},{"t":15.3,"c":9},{"t":15.7,"c":2030},{"t":15.6,"c":650},{"t":15.2,"c":210},{"t":15.8,"c":260},{"t":15.0,"c":480},{"t":15.5,"c":950},{"t":15.3,"c":1110},{"t":15.9,"c":1580},
{"t":16.6,"c":2856},{"t":16.85,"c":2714},{"t":16.6,"c":2631},{"t":16.4,"c":70},{"t":16.9,"c":122},{"t":16.2,"c":176},{"t":16.7,"c":231},{"t":16.0,"c":290},{"t":16.5,"c":344},{"t":16.8,"c":398},{"t":16.3,"c":454},{"t":16.1,"c":509},{"t":16.6,"c":563},{"t":16.9,"c":619},{"t":16.4,"c":673},{"t":16.0,"c":729},{"t":16.7,"c":784},{"t":16.2,"c":839},{"t":16.5,"c":893},{"t":16.8,"c":949},{"t":16.3,"c":1004},{"t":16.1,"c":1059},{"t":16.9,"c":1114},{"t":16.6,"c":1169},{"t":16.4,"c":1224},{"t":16.0,"c":1279},{"t":16.7,"c":1335},{"t":16.2,"c":1390},{"t":16.5,"c":1445},{"t":16.8,"c":1500},{"t":16.3,"c":1555},{"t":16.1,"c":1611},{"t":16.9,"c":1666},{"t":16.6,"c":1721},{"t":16.4,"c":1777},{"t":16.0,"c":1833},{"t":16.7,"c":1891},{"t":16.2,"c":1954},{"t":16.5,"c":2024},{"t":16.8,"c":2097},{"t":16.3,"c":2170},{"t":16.1,"c":2255},{"t":16.9,"c":2340},{"t":16.4,"c":2420},{"t":16.6,"c":160},{"t":16.0,"c":305},{"t":16.8,"c":440},{"t":16.2,"c":590},{"t":16.5,"c":720},{"t":16.7,"c":870},{"t":16.1,"c":1020},{"t":16.9,"c":1170},{"t":16.3,"c":1320},{"t":16.6,"c":535},{"t":16.0,"c":790},{"t":16.4,"c":365},{"t":16.2,"c":7},{"t":16.6,"c":4},{"t":16.0,"c":10},{"t":16.8,"c":6},{"t":16.4,"c":3},{"t":16.1,"c":12},{"t":16.5,"c":8},{"t":16.9,"c":5},{"t":16.3,"c":9},{"t":16.7,"c":2040},{"t":16.2,"c":660},{"t":16.8,"c":220},{"t":16.5,"c":270},{"t":16.1,"c":490},{"t":16.9,"c":960},{"t":16.4,"c":1120},{"t":16.0,"c":1590},
{"t":17.0,"c":2694},{"t":17.1,"c":2664},{"t":17.2,"c":2631},{"t":17.4,"c":2572},{"t":17.9,"c":2704},{"t":17.7,"c":78},{"t":17.2,"c":130},{"t":17.5,"c":185},{"t":17.0,"c":240},{"t":17.8,"c":298},{"t":17.3,"c":353},{"t":17.6,"c":407},{"t":17.1,"c":462},{"t":17.9,"c":517},{"t":17.4,"c":572},{"t":17.0,"c":628},{"t":17.7,"c":682},{"t":17.2,"c":737},{"t":17.5,"c":792},{"t":17.8,"c":847},{"t":17.3,"c":902},{"t":17.1,"c":957},{"t":17.6,"c":1012},{"t":17.9,"c":1068},{"t":17.4,"c":1123},{"t":17.0,"c":1178},{"t":17.7,"c":1233},{"t":17.2,"c":1288},{"t":17.5,"c":1344},{"t":17.8,"c":1399},{"t":17.3,"c":1454},{"t":17.1,"c":1509},{"t":17.6,"c":1564},{"t":17.9,"c":1620},{"t":17.4,"c":1675},{"t":17.0,"c":1730},{"t":17.7,"c":1786},{"t":17.2,"c":1842},{"t":17.5,"c":1900},{"t":17.8,"c":1963},{"t":17.3,"c":2033},{"t":17.1,"c":2106},{"t":17.6,"c":2180},{"t":17.9,"c":2265},{"t":17.4,"c":2350},{"t":17.0,"c":2430},{"t":17.5,"c":170},{"t":17.8,"c":315},{"t":17.2,"c":450},{"t":17.6,"c":600},{"t":17.0,"c":730},{"t":17.9,"c":880},{"t":17.3,"c":1030},{"t":17.7,"c":1180},{"t":17.1,"c":1330},{"t":17.5,"c":545},{"t":17.8,"c":800},{"t":17.4,"c":375},{"t":17.0,"c":8},{"t":17.4,"c":5},{"t":17.8,"c":11},{"t":17.2,"c":3},{"t":17.6,"c":7},{"t":17.9,"c":9},{"t":17.1,"c":4},{"t":17.5,"c":12},{"t":17.3,"c":6},{"t":17.7,"c":2050},{"t":17.2,"c":670},{"t":17.6,"c":230},{"t":17.0,"c":280},{"t":17.8,"c":500},{"t":17.3,"c":970},{"t":17.9,"c":1130},{"t":17.5,"c":1600},{"t":17.1,"c":2210},
{"t":18.1,"c":2787},{"t":18.0,"c":2631},{"t":18.5,"c":86},{"t":18.1,"c":138},{"t":18.8,"c":194},{"t":18.3,"c":249},{"t":18.6,"c":306},{"t":18.0,"c":361},{"t":18.9,"c":416},{"t":18.4,"c":471},{"t":18.2,"c":526},{"t":18.7,"c":581},{"t":18.0,"c":637},{"t":18.5,"c":691},{"t":18.3,"c":746},{"t":18.8,"c":801},{"t":18.1,"c":856},{"t":18.6,"c":911},{"t":18.9,"c":966},{"t":18.4,"c":1021},{"t":18.2,"c":1077},{"t":18.7,"c":1132},{"t":18.0,"c":1187},{"t":18.5,"c":1242},{"t":18.3,"c":1297},{"t":18.8,"c":1353},{"t":18.1,"c":1408},{"t":18.6,"c":1463},{"t":18.9,"c":1518},{"t":18.4,"c":1573},{"t":18.2,"c":1629},{"t":18.7,"c":1684},{"t":18.0,"c":1739},{"t":18.5,"c":1795},{"t":18.3,"c":1851},{"t":18.8,"c":1909},{"t":18.1,"c":1972},{"t":18.6,"c":2042},{"t":18.9,"c":2115},{"t":18.4,"c":2190},{"t":18.2,"c":2275},{"t":18.7,"c":2360},{"t":18.0,"c":2440},{"t":18.5,"c":2520},{"t":18.8,"c":180},{"t":18.3,"c":325},{"t":18.6,"c":460},{"t":18.1,"c":610},{"t":18.9,"c":740},{"t":18.4,"c":890},{"t":18.0,"c":1040},{"t":18.7,"c":1190},{"t":18.2,"c":1340},{"t":18.5,"c":555},{"t":18.9,"c":810},{"t":18.6,"c":385},{"t":18.1,"c":6},{"t":18.5,"c":10},{"t":18.9,"c":3},{"t":18.3,"c":8},{"t":18.7,"c":5},{"t":18.0,"c":11},{"t":18.4,"c":7},{"t":18.8,"c":4},{"t":18.2,"c":9},{"t":18.6,"c":12},{"t":18.3,"c":2060},{"t":18.8,"c":680},{"t":18.4,"c":240},{"t":18.0,"c":290},{"t":18.7,"c":510},{"t":18.2,"c":980},{"t":18.9,"c":1140},{"t":18.5,"c":1610},{"t":18.1,"c":2220},
{"t":19.3,"c":94},{"t":19.8,"c":146},{"t":19.0,"c":203},{"t":19.6,"c":258},{"t":19.2,"c":314},{"t":19.9,"c":370},{"t":19.4,"c":425},{"t":19.1,"c":480},{"t":19.7,"c":535},{"t":19.5,"c":590},{"t":19.0,"c":646},{"t":19.3,"c":700},{"t":19.8,"c":755},{"t":19.2,"c":810},{"t":19.6,"c":865},{"t":19.9,"c":920},{"t":19.4,"c":975},{"t":19.1,"c":1030},{"t":19.7,"c":1086},{"t":19.5,"c":1141},{"t":19.0,"c":1196},{"t":19.3,"c":1251},{"t":19.8,"c":1306},{"t":19.2,"c":1362},{"t":19.6,"c":1417},{"t":19.9,"c":1472},{"t":19.4,"c":1527},{"t":19.1,"c":1582},{"t":19.7,"c":1638},{"t":19.5,"c":1693},{"t":19.0,"c":1748},{"t":19.3,"c":1804},{"t":19.8,"c":1860},{"t":19.2,"c":1918},{"t":19.6,"c":1981},{"t":19.9,"c":2051},{"t":19.4,"c":2124},{"t":19.1,"c":2199},{"t":19.7,"c":2284},{"t":19.5,"c":2369},{"t":19.0,"c":2450},{"t":19.3,"c":2530},{"t":19.8,"c":2610},{"t":19.6,"c":190},{"t":19.1,"c":335},{"t":19.9,"c":470},{"t":19.4,"c":620},{"t":19.0,"c":750},{"t":19.7,"c":900},{"t":19.2,"c":1050},{"t":19.5,"c":1200},{"t":19.8,"c":1350},{"t":19.3,"c":565},{"t":19.0,"c":820},{"t":19.6,"c":395},{"t":19.2,"c":7},{"t":19.6,"c":4},{"t":19.0,"c":10},{"t":19.8,"c":6},{"t":19.4,"c":3},{"t":19.1,"c":12},{"t":19.5,"c":8},{"t":19.9,"c":5},{"t":19.3,"c":9},{"t":19.7,"c":11},{"t":19.6,"c":2070},{"t":19.1,"c":690},{"t":19.8,"c":250},{"t":19.4,"c":300},{"t":19.0,"c":520},{"t":19.7,"c":990},{"t":19.2,"c":1150},{"t":19.9,"c":1620},{"t":19.5,"c":2230},{"t":19.3,"c":1450},
{"t":20.55,"c":3128},{"t":20.35,"c":2572},{"t":20.6,"c":102},{"t":20.1,"c":154},{"t":20.9,"c":212},{"t":20.4,"c":267},{"t":20.0,"c":323},{"t":20.7,"c":379},{"t":20.3,"c":434},{"t":20.8,"c":489},{"t":20.2,"c":544},{"t":20.5,"c":599},{"t":20.9,"c":655},{"t":20.0,"c":709},{"t":20.6,"c":764},{"t":20.4,"c":819},{"t":20.1,"c":874},{"t":20.8,"c":929},{"t":20.3,"c":984},{"t":20.7,"c":1039},{"t":20.5,"c":1095},{"t":20.0,"c":1150},{"t":20.9,"c":1205},{"t":20.2,"c":1260},{"t":20.6,"c":1315},{"t":20.4,"c":1371},{"t":20.8,"c":1426},{"t":20.1,"c":1481},{"t":20.3,"c":1536},{"t":20.7,"c":1591},{"t":20.5,"c":1647},{"t":20.9,"c":1702},{"t":20.0,"c":1757},{"t":20.6,"c":1813},{"t":20.2,"c":1869},{"t":20.8,"c":1927},{"t":20.4,"c":1990},{"t":20.1,"c":2060},{"t":20.7,"c":2133},{"t":20.3,"c":2208},{"t":20.9,"c":2293},{"t":20.5,"c":2378},{"t":20.0,"c":2460},{"t":20.6,"c":2540},{"t":20.2,"c":2620},{"t":20.8,"c":200},{"t":20.4,"c":345},{"t":20.0,"c":480},{"t":20.7,"c":630},{"t":20.3,"c":760},{"t":20.9,"c":910},{"t":20.1,"c":1060},{"t":20.5,"c":1210},{"t":20.8,"c":1360},{"t":20.2,"c":575},{"t":20.6,"c":830},{"t":20.0,"c":405},{"t":20.3,"c":6},{"t":20.7,"c":10},{"t":20.1,"c":3},{"t":20.9,"c":8},{"t":20.5,"c":5},{"t":20.0,"c":11},{"t":20.4,"c":7},{"t":20.8,"c":4},{"t":20.2,"c":9},{"t":20.6,"c":12},{"t":20.0,"c":14},{"t":20.4,"c":2080},{"t":20.9,"c":700},{"t":20.1,"c":260},{"t":20.7,"c":310},{"t":20.3,"c":530},{"t":20.5,"c":1000},{"t":20.8,"c":1160},{"t":20.2,"c":1630},{"t":20.6,"c":2240},{"t":20.4,"c":1460},{"t":20.0,"c":1880},
{"t":21.7,"c":3118},{"t":21.6,"c":3068},{"t":21.2,"c":2803},{"t":21.2,"c":2644},{"t":21.6,"c":2575},{"t":21.4,"c":110},{"t":21.9,"c":163},{"t":21.1,"c":221},{"t":21.7,"c":276},{"t":21.3,"c":332},{"t":21.0,"c":388},{"t":21.8,"c":443},{"t":21.5,"c":498},{"t":21.2,"c":553},{"t":21.9,"c":608},{"t":21.4,"c":664},{"t":21.0,"c":718},{"t":21.6,"c":773},{"t":21.3,"c":828},{"t":21.8,"c":883},{"t":21.1,"c":938},{"t":21.7,"c":993},{"t":21.5,"c":1048},{"t":21.0,"c":1104},{"t":21.9,"c":1159},{"t":21.3,"c":1214},{"t":21.6,"c":1269},{"t":21.2,"c":1324},{"t":21.8,"c":1380},{"t":21.4,"c":1435},{"t":21.1,"c":1490},{"t":21.7,"c":1545},{"t":21.5,"c":1600},{"t":21.9,"c":1656},{"t":21.0,"c":1711},{"t":21.6,"c":1766},{"t":21.3,"c":1822},{"t":21.8,"c":1878},{"t":21.2,"c":1936},{"t":21.4,"c":1999},{"t":21.9,"c":2069},{"t":21.1,"c":2142},{"t":21.7,"c":2217},{"t":21.5,"c":2302},{"t":21.0,"c":2387},{"t":21.8,"c":2470},{"t":21.3,"c":2550},{"t":21.6,"c":2630},{"t":21.9,"c":210},{"t":21.2,"c":355},{"t":21.5,"c":490},{"t":21.1,"c":640},{"t":21.8,"c":770},{"t":21.4,"c":920},{"t":21.0,"c":1070},{"t":21.7,"c":1220},{"t":21.3,"c":1370},{"t":21.9,"c":585},{"t":21.6,"c":840},{"t":21.1,"c":415},{"t":21.4,"c":5},{"t":21.8,"c":9},{"t":21.0,"c":3},{"t":21.6,"c":7},{"t":21.2,"c":11},{"t":21.9,"c":4},{"t":21.5,"c":8},{"t":21.1,"c":12},{"t":21.7,"c":6},{"t":21.3,"c":10},{"t":21.5,"c":2090},{"t":21.0,"c":710},{"t":21.8,"c":270},{"t":21.2,"c":320},{"t":21.6,"c":540},{"t":21.4,"c":1010},{"t":21.9,"c":1170},{"t":21.1,"c":1640},{"t":21.3,"c":2250},{"t":21.7,"c":1470},{"t":21.5,"c":1890},{"t":21.0,"c":2010},
{"t":22.45,"c":3151},{"t":22.6,"c":2820},{"t":22.8,"c":118},{"t":22.2,"c":172},{"t":22.5,"c":230},{"t":22.0,"c":285},{"t":22.9,"c":341},{"t":22.3,"c":397},{"t":22.7,"c":452},{"t":22.1,"c":507},{"t":22.6,"c":562},{"t":22.4,"c":617},{"t":22.9,"c":673},{"t":22.0,"c":727},{"t":22.5,"c":782},{"t":22.8,"c":837},{"t":22.2,"c":892},{"t":22.7,"c":947},{"t":22.3,"c":1002},{"t":22.1,"c":1057},{"t":22.6,"c":1113},{"t":22.9,"c":1168},{"t":22.4,"c":1223},{"t":22.0,"c":1278},{"t":22.8,"c":1333},{"t":22.5,"c":1389},{"t":22.2,"c":1444},{"t":22.7,"c":1499},{"t":22.3,"c":1554},{"t":22.9,"c":1609},{"t":22.1,"c":1665},{"t":22.6,"c":1720},{"t":22.4,"c":1775},{"t":22.0,"c":1831},{"t":22.8,"c":1887},{"t":22.5,"c":1945},{"t":22.2,"c":2008},{"t":22.7,"c":2078},{"t":22.3,"c":2151},{"t":22.9,"c":2226},{"t":22.1,"c":2311},{"t":22.6,"c":2396},{"t":22.4,"c":2478},{"t":22.0,"c":2560},{"t":22.8,"c":2640},{"t":22.5,"c":2720},{"t":22.3,"c":220},{"t":22.7,"c":365},{"t":22.0,"c":500},{"t":22.9,"c":650},{"t":22.4,"c":780},{"t":22.1,"c":930},{"t":22.6,"c":1080},{"t":22.8,"c":1230},{"t":22.2,"c":1380},{"t":22.5,"c":595},{"t":22.9,"c":850},{"t":22.3,"c":425},{"t":22.1,"c":7},{"t":22.5,"c":4},{"t":22.9,"c":10},{"t":22.3,"c":6},{"t":22.7,"c":3},{"t":22.0,"c":12},{"t":22.4,"c":8},{"t":22.8,"c":5},{"t":22.2,"c":9},{"t":22.6,"c":11},{"t":22.1,"c":2100},{"t":22.6,"c":720},{"t":22.0,"c":280},{"t":22.8,"c":330},{"t":22.4,"c":550},{"t":22.2,"c":1020},{"t":22.7,"c":1180},{"t":22.5,"c":1650},{"t":22.9,"c":2260},{"t":22.3,"c":1480},{"t":22.1,"c":1900},{"t":22.6,"c":2020},
{"t":23.6,"c":3247},{"t":23.95,"c":2959},{"t":23.25,"c":2912},{"t":23.5,"c":2903},{"t":23.05,"c":2870},{"t":23.3,"c":2803},{"t":23.9,"c":2787},{"t":23.9,"c":2648},{"t":23.5,"c":126},{"t":23.0,"c":181},{"t":23.8,"c":239},{"t":23.3,"c":294},{"t":23.6,"c":350},{"t":23.1,"c":406},{"t":23.9,"c":461},{"t":23.4,"c":516},{"t":23.7,"c":571},{"t":23.2,"c":626},{"t":23.0,"c":682},{"t":23.5,"c":736},{"t":23.8,"c":791},{"t":23.3,"c":846},{"t":23.6,"c":901},{"t":23.1,"c":956},{"t":23.9,"c":1011},{"t":23.4,"c":1066},{"t":23.7,"c":1122},{"t":23.2,"c":1177},{"t":23.0,"c":1232},{"t":23.5,"c":1287},{"t":23.8,"c":1342},{"t":23.3,"c":1398},{"t":23.6,"c":1453},{"t":23.1,"c":1508},{"t":23.9,"c":1563},{"t":23.4,"c":1618},{"t":23.7,"c":1674},{"t":23.2,"c":1729},{"t":23.0,"c":1784},{"t":23.5,"c":1840},{"t":23.8,"c":1896},{"t":23.3,"c":1954},{"t":23.6,"c":2017},{"t":23.1,"c":2087},{"t":23.9,"c":2160},{"t":23.4,"c":2235},{"t":23.7,"c":2320},{"t":23.2,"c":2405},{"t":23.0,"c":2487},{"t":23.5,"c":2569},{"t":23.8,"c":2649},{"t":23.6,"c":230},{"t":23.1,"c":375},{"t":23.9,"c":510},{"t":23.4,"c":660},{"t":23.0,"c":790},{"t":23.7,"c":940},{"t":23.2,"c":1090},{"t":23.5,"c":1240},{"t":23.8,"c":1390},{"t":23.3,"c":605},{"t":23.0,"c":860},{"t":23.6,"c":435},{"t":23.2,"c":5},{"t":23.6,"c":9},{"t":23.0,"c":3},{"t":23.8,"c":7},{"t":23.4,"c":11},{"t":23.1,"c":4},{"t":23.5,"c":8},{"t":23.9,"c":12},{"t":23.3,"c":6},{"t":23.7,"c":10},{"t":23.4,"c":2110},{"t":23.9,"c":730},{"t":23.1,"c":290},{"t":23.7,"c":340},{"t":23.3,"c":560},{"t":23.5,"c":1030},{"t":23.8,"c":1190},{"t":23.2,"c":1660},{"t":23.6,"c":2270},{"t":23.0,"c":1490},{"t":23.4,"c":1910},{"t":23.9,"c":2030},{"t":23.1,"c":2390},
{"t":24.05,"c":3551},{"t":24.4,"c":3376},{"t":24.9,"c":3399},{"t":24.65,"c":3217},{"t":24.4,"c":3151},{"t":24.9,"c":3168},{"t":24.2,"c":2982},{"t":24.5,"c":2793},{"t":24.4,"c":2655},{"t":24.7,"c":134},{"t":24.1,"c":190},{"t":24.4,"c":248},{"t":24.9,"c":303},{"t":24.0,"c":359},{"t":24.6,"c":415},{"t":24.3,"c":470},{"t":24.8,"c":525},{"t":24.2,"c":580},{"t":24.5,"c":635},{"t":24.9,"c":691},{"t":24.1,"c":745},{"t":24.7,"c":800},{"t":24.4,"c":855},{"t":24.0,"c":910},{"t":24.6,"c":965},{"t":24.3,"c":1020},{"t":24.8,"c":1075},{"t":24.1,"c":1131},{"t":24.5,"c":1186},{"t":24.9,"c":1241},{"t":24.2,"c":1296},{"t":24.7,"c":1351},{"t":24.0,"c":1407},{"t":24.4,"c":1462},{"t":24.6,"c":1517},{"t":24.3,"c":1572},{"t":24.8,"c":1627},{"t":24.1,"c":1683},{"t":24.5,"c":1738},{"t":24.9,"c":1793},{"t":24.2,"c":1849},{"t":24.7,"c":1905},{"t":24.0,"c":1963},{"t":24.4,"c":2026},{"t":24.6,"c":2096},{"t":24.3,"c":2169},{"t":24.8,"c":2244},{"t":24.1,"c":2329},{"t":24.5,"c":2414},{"t":24.9,"c":2496},{"t":24.2,"c":2578},{"t":24.7,"c":240},{"t":24.0,"c":385},{"t":24.5,"c":520},{"t":24.8,"c":670},{"t":24.3,"c":800},{"t":24.1,"c":950},{"t":24.6,"c":1100},{"t":24.9,"c":1250},{"t":24.4,"c":1400},{"t":24.2,"c":615},{"t":24.7,"c":870},{"t":24.0,"c":445},{"t":24.3,"c":7},{"t":24.7,"c":4},{"t":24.1,"c":10},{"t":24.9,"c":6},{"t":24.5,"c":3},{"t":24.0,"c":12},{"t":24.4,"c":8},{"t":24.8,"c":5},{"t":24.2,"c":9},{"t":24.6,"c":11},{"t":24.5,"c":2120},{"t":24.0,"c":740},{"t":24.8,"c":300},{"t":24.2,"c":350},{"t":24.6,"c":570},{"t":24.9,"c":1040},{"t":24.3,"c":1200},{"t":24.7,"c":1670},{"t":24.1,"c":2280},{"t":24.5,"c":1500},{"t":24.8,"c":1920},{"t":24.0,"c":2040},{"t":24.6,"c":2400},{"t":24.3,"c":2150},{"t":24.9,"c":1760},
{"t":25.3,"c":3273},{"t":25.9,"c":3293},{"t":25.6,"c":3217},{"t":25.9,"c":3194},{"t":25.8,"c":2890},{"t":25.7,"c":2820},{"t":25.5,"c":2737},{"t":25.5,"c":2664},{"t":25.5,"c":2615},{"t":25.2,"c":142},{"t":25.8,"c":199},{"t":25.5,"c":257},{"t":25.0,"c":312},{"t":25.7,"c":368},{"t":25.3,"c":424},{"t":25.9,"c":479},{"t":25.1,"c":534},{"t":25.6,"c":589},{"t":25.4,"c":644},{"t":25.0,"c":700},{"t":25.8,"c":754},{"t":25.2,"c":809},{"t":25.5,"c":864},{"t":25.9,"c":919},{"t":25.3,"c":974},{"t":25.7,"c":1029},{"t":25.1,"c":1084},{"t":25.6,"c":1140},{"t":25.4,"c":1195},{"t":25.0,"c":1250},{"t":25.8,"c":1305},{"t":25.2,"c":1360},{"t":25.5,"c":1416},{"t":25.9,"c":1471},{"t":25.3,"c":1526},{"t":25.7,"c":1581},{"t":25.1,"c":1636},{"t":25.6,"c":1692},{"t":25.4,"c":1747},{"t":25.0,"c":1802},{"t":25.8,"c":1858},{"t":25.2,"c":1914},{"t":25.5,"c":1972},{"t":25.9,"c":2035},{"t":25.3,"c":2105},{"t":25.7,"c":2178},{"t":25.1,"c":2253},{"t":25.6,"c":2338},{"t":25.4,"c":2423},{"t":25.0,"c":2505},{"t":25.8,"c":2587},{"t":25.3,"c":250},{"t":25.9,"c":395},{"t":25.1,"c":530},{"t":25.6,"c":680},{"t":25.2,"c":810},{"t":25.8,"c":960},{"t":25.4,"c":1110},{"t":25.0,"c":1260},{"t":25.7,"c":1410},{"t":25.5,"c":625},{"t":25.1,"c":880},{"t":25.9,"c":455},{"t":25.4,"c":6},{"t":25.8,"c":10},{"t":25.2,"c":3},{"t":25.6,"c":8},{"t":25.0,"c":5},{"t":25.7,"c":12},{"t":25.3,"c":7},{"t":25.9,"c":4},{"t":25.5,"c":9},{"t":25.1,"c":11},{"t":25.6,"c":2130},{"t":25.2,"c":750},{"t":25.7,"c":310},{"t":25.0,"c":360},{"t":25.4,"c":580},{"t":25.8,"c":1050},{"t":25.1,"c":1210},{"t":25.5,"c":1680},{"t":25.9,"c":2290},{"t":25.3,"c":1510},{"t":25.6,"c":1930},{"t":25.0,"c":2050},{"t":25.4,"c":2410},{"t":25.8,"c":2160},{"t":25.2,"c":1770},
{"t":26.2,"c":3307},{"t":26.96,"c":3379},{"t":26.96,"c":3250},{"t":26.75,"c":3158},{"t":26.4,"c":3118},{"t":26.8,"c":2810},{"t":26.75,"c":2595},{"t":26.5,"c":150},{"t":26.1,"c":208},{"t":26.8,"c":266},{"t":26.3,"c":321},{"t":26.6,"c":377},{"t":26.0,"c":433},{"t":26.9,"c":488},{"t":26.4,"c":543},{"t":26.2,"c":598},{"t":26.7,"c":653},{"t":26.0,"c":709},{"t":26.5,"c":763},{"t":26.9,"c":818},{"t":26.3,"c":873},{"t":26.6,"c":928},{"t":26.1,"c":983},{"t":26.8,"c":1038},{"t":26.4,"c":1093},{"t":26.0,"c":1149},{"t":26.7,"c":1204},{"t":26.2,"c":1259},{"t":26.5,"c":1314},{"t":26.9,"c":1369},{"t":26.3,"c":1425},{"t":26.6,"c":1480},{"t":26.1,"c":1535},{"t":26.8,"c":1590},{"t":26.4,"c":1645},{"t":26.0,"c":1701},{"t":26.7,"c":1756},{"t":26.2,"c":1811},{"t":26.5,"c":1867},{"t":26.9,"c":1923},{"t":26.3,"c":1981},{"t":26.6,"c":2044},{"t":26.1,"c":2114},{"t":26.8,"c":2187},{"t":26.4,"c":2262},{"t":26.0,"c":2347},{"t":26.7,"c":2432},{"t":26.2,"c":2514},{"t":26.5,"c":2596},{"t":26.9,"c":260},{"t":26.3,"c":405},{"t":26.6,"c":540},{"t":26.0,"c":690},{"t":26.8,"c":820},{"t":26.4,"c":970},{"t":26.1,"c":1120},{"t":26.7,"c":1270},{"t":26.3,"c":1420},{"t":26.9,"c":635},{"t":26.5,"c":890},{"t":26.2,"c":465},{"t":26.0,"c":8},{"t":26.3,"c":5},{"t":26.1,"c":11},{"t":26.4,"c":4},{"t":26.2,"c":7},{"t":26.0,"c":9},{"t":26.6,"c":2140},{"t":26.1,"c":760},{"t":26.8,"c":320},{"t":26.4,"c":370},{"t":26.7,"c":590},{"t":26.0,"c":1060},{"t":26.5,"c":1220},{"t":26.9,"c":1690},{"t":26.2,"c":2300},{"t":26.6,"c":1520},{"t":26.3,"c":1940},{"t":26.8,"c":2060},{"t":26.1,"c":2420},{"t":26.5,"c":2170},{"t":26.7,"c":1780},
{"t":27.7,"c":3412},{"t":27.0,"c":3161},{"t":27.45,"c":3012},{"t":27.8,"c":3108},{"t":27.45,"c":2912},{"t":27.1,"c":2727},{"t":27.1,"c":2605},{"t":27.3,"c":158},{"t":27.8,"c":217},{"t":27.1,"c":275},{"t":27.6,"c":330},{"t":27.4,"c":386},{"t":27.9,"c":442},{"t":27.0,"c":497},{"t":27.5,"c":552},{"t":27.2,"c":607},{"t":27.7,"c":662},{"t":27.3,"c":718},{"t":27.9,"c":772},{"t":27.1,"c":827},{"t":27.6,"c":882},{"t":27.4,"c":937},{"t":27.0,"c":992},{"t":27.8,"c":1047},{"t":27.2,"c":1102},{"t":27.5,"c":1158},{"t":27.9,"c":1213},{"t":27.3,"c":1268},{"t":27.7,"c":1323},{"t":27.1,"c":1378},{"t":27.4,"c":1434},{"t":27.6,"c":1489},{"t":27.0,"c":1544},{"t":27.8,"c":1599},{"t":27.2,"c":1654},{"t":27.5,"c":1710},{"t":27.9,"c":1765},{"t":27.3,"c":1820},{"t":27.7,"c":1876},{"t":27.1,"c":1932},{"t":27.4,"c":1990},{"t":27.6,"c":2053},{"t":27.0,"c":2123},{"t":27.8,"c":2196},{"t":27.2,"c":2271},{"t":27.5,"c":2356},{"t":27.9,"c":2441},{"t":27.3,"c":2523},{"t":27.6,"c":270},{"t":27.0,"c":415},{"t":27.9,"c":550},{"t":27.4,"c":700},{"t":27.1,"c":830},{"t":27.7,"c":980},{"t":27.2,"c":1130},{"t":27.5,"c":1280},{"t":27.8,"c":1430},{"t":27.3,"c":645},{"t":27.0,"c":900},{"t":27.6,"c":475},{"t":27.7,"c":2150},{"t":27.2,"c":770},{"t":27.9,"c":330},{"t":27.5,"c":380},{"t":27.1,"c":600},{"t":27.4,"c":1070},{"t":27.8,"c":1230},{"t":27.0,"c":1700},{"t":27.3,"c":2310},{"t":27.7,"c":1530},{"t":27.5,"c":1950},{"t":27.2,"c":2070},{"t":27.9,"c":2430},{"t":27.6,"c":2180},
{"t":28.5,"c":3081},{"t":28.4,"c":2926},{"t":28.4,"c":2830},{"t":28.15,"c":2635},{"t":28.6,"c":166},{"t":28.1,"c":226},{"t":28.9,"c":284},{"t":28.4,"c":339},{"t":28.0,"c":395},{"t":28.7,"c":451},{"t":28.3,"c":506},{"t":28.8,"c":561},{"t":28.2,"c":616},{"t":28.5,"c":671},{"t":28.9,"c":727},{"t":28.0,"c":781},{"t":28.6,"c":836},{"t":28.3,"c":891},{"t":28.7,"c":946},{"t":28.1,"c":1001},{"t":28.4,"c":1056},{"t":28.8,"c":1111},{"t":28.2,"c":1167},{"t":28.5,"c":1222},{"t":28.0,"c":1277},{"t":28.9,"c":1332},{"t":28.3,"c":1387},{"t":28.6,"c":1443},{"t":28.1,"c":1498},{"t":28.7,"c":1553},{"t":28.4,"c":1608},{"t":28.8,"c":1663},{"t":28.2,"c":1719},{"t":28.5,"c":1774},{"t":28.0,"c":1829},{"t":28.6,"c":1885},{"t":28.9,"c":1941},{"t":28.3,"c":1999},{"t":28.7,"c":2062},{"t":28.1,"c":2132},{"t":28.4,"c":2205},{"t":28.8,"c":2280},{"t":28.2,"c":2365},{"t":28.5,"c":2450},{"t":28.0,"c":2532},{"t":28.9,"c":280},{"t":28.3,"c":425},{"t":28.6,"c":560},{"t":28.0,"c":710},{"t":28.8,"c":840},{"t":28.4,"c":990},{"t":28.1,"c":1140},{"t":28.7,"c":1290},{"t":28.2,"c":1440},{"t":28.5,"c":655},{"t":28.9,"c":910},{"t":28.3,"c":485},{"t":28.4,"c":2160},{"t":28.0,"c":780},{"t":28.7,"c":340},{"t":28.2,"c":390},{"t":28.6,"c":610},{"t":28.9,"c":1080},{"t":28.1,"c":1240},{"t":28.5,"c":1710},{"t":28.8,"c":2320},{"t":28.3,"c":1540},{"t":28.6,"c":1960},{"t":28.0,"c":2080},{"t":28.4,"c":2440},
{"t":29.3,"c":3360},{"t":29.8,"c":2774},{"t":29.97,"c":3078},{"t":29.3,"c":172},{"t":29.7,"c":235},{"t":29.1,"c":293},{"t":29.5,"c":348},{"t":29.9,"c":404},{"t":29.2,"c":460},{"t":29.6,"c":515},{"t":29.0,"c":570},{"t":29.8,"c":625},{"t":29.4,"c":680},{"t":29.1,"c":736},{"t":29.7,"c":790},{"t":29.3,"c":845},{"t":29.9,"c":900},{"t":29.5,"c":955},{"t":29.0,"c":1010},{"t":29.6,"c":1065},{"t":29.2,"c":1120},{"t":29.8,"c":1176},{"t":29.4,"c":1231},{"t":29.1,"c":1286},{"t":29.7,"c":1341},{"t":29.3,"c":1396},{"t":29.9,"c":1452},{"t":29.5,"c":1507},{"t":29.0,"c":1562},{"t":29.6,"c":1617},{"t":29.2,"c":1672},{"t":29.8,"c":1728},{"t":29.4,"c":1783},{"t":29.1,"c":1838},{"t":29.7,"c":1894},{"t":29.3,"c":1950},{"t":29.9,"c":2008},{"t":29.5,"c":2071},{"t":29.0,"c":2141},{"t":29.6,"c":2214},{"t":29.2,"c":2289},{"t":29.8,"c":2374},{"t":29.4,"c":2459},{"t":29.7,"c":2541},{"t":29.0,"c":290},{"t":29.6,"c":435},{"t":29.3,"c":570},{"t":29.9,"c":720},{"t":29.1,"c":850},{"t":29.5,"c":1000},{"t":29.8,"c":1150},{"t":29.2,"c":1300},{"t":29.6,"c":1450},{"t":29.4,"c":665},{"t":29.0,"c":920},{"t":29.7,"c":495},{"t":29.5,"c":2170},{"t":29.1,"c":790},{"t":29.9,"c":350},{"t":29.3,"c":400},{"t":29.8,"c":620},{"t":29.2,"c":1090},{"t":29.6,"c":1250},{"t":29.0,"c":1720},{"t":29.4,"c":2330},{"t":29.7,"c":1550},{"t":29.1,"c":1970},
{"t":30.25,"c":2820},{"t":30.7,"c":2880},{"t":30.6,"c":3233},{"t":30.8,"c":2783},{"t":30.35,"c":2595},{"t":30.6,"c":271},{"t":30.95,"c":221},{"t":30.4,"c":312},{"t":30.8,"c":372},{"t":30.1,"c":431},{"t":30.5,"c":488},{"t":30.9,"c":545},{"t":30.2,"c":603},{"t":30.7,"c":660},{"t":30.0,"c":717},{"t":30.4,"c":775},{"t":30.8,"c":832},{"t":30.3,"c":889},{"t":30.6,"c":946},{"t":30.1,"c":1004},{"t":30.9,"c":1061},{"t":30.5,"c":1118},{"t":30.2,"c":1176},{"t":30.7,"c":1233},{"t":30.0,"c":1290},{"t":30.4,"c":1348},{"t":30.8,"c":1405},{"t":30.3,"c":1462},{"t":30.6,"c":1520},{"t":30.1,"c":1577},{"t":30.9,"c":1634},{"t":30.5,"c":1692},{"t":30.2,"c":1749},{"t":30.7,"c":1808},{"t":30.0,"c":1868},{"t":30.4,"c":1932},{"t":30.8,"c":2001},{"t":30.3,"c":2075},{"t":30.6,"c":2153},{"t":30.1,"c":2240},{"t":30.9,"c":2330},{"t":30.5,"c":2420},{"t":30.2,"c":2500},{"t":30.7,"c":620},{"t":30.3,"c":700},{"t":30.9,"c":760},{"t":30.0,"c":810},{"t":30.5,"c":880},{"t":30.1,"c":950},{"t":30.8,"c":1100},{"t":30.4,"c":1250},{"t":30.6,"c":680},{"t":30.2,"c":740},{"t":30.0,"c":420},{"t":30.7,"c":1400},
{"t":31.1,"c":248},{"t":31.3,"c":2760},{"t":31.5,"c":2621},{"t":31.95,"c":2694},{"t":31.6,"c":330},{"t":31.2,"c":395},{"t":31.8,"c":452},{"t":31.0,"c":510},{"t":31.4,"c":567},{"t":31.9,"c":625},{"t":31.3,"c":682},{"t":31.7,"c":740},{"t":31.1,"c":798},{"t":31.5,"c":856},{"t":31.8,"c":914},{"t":31.2,"c":972},{"t":31.6,"c":1030},{"t":31.0,"c":1088},{"t":31.4,"c":1146},{"t":31.9,"c":1204},{"t":31.3,"c":1262},{"t":31.7,"c":1320},{"t":31.1,"c":1378},{"t":31.5,"c":1436},{"t":31.8,"c":1494},{"t":31.2,"c":1552},{"t":31.6,"c":1610},{"t":31.0,"c":1670},{"t":31.4,"c":1732},{"t":31.9,"c":1797},{"t":31.3,"c":1866},{"t":31.7,"c":1940},{"t":31.1,"c":2020},{"t":31.5,"c":2110},{"t":31.8,"c":2210},{"t":31.2,"c":2320},{"t":31.6,"c":640},{"t":31.0,"c":700},{"t":31.4,"c":760},{"t":31.9,"c":820},{"t":31.7,"c":690},{"t":31.2,"c":610},{"t":31.5,"c":730},{"t":31.8,"c":580},{"t":31.0,"c":860},{"t":31.3,"c":1000},{"t":31.6,"c":1180},{"t":31.1,"c":470},{"t":31.9,"c":1420},
{"t":32.2,"c":2962},{"t":32.5,"c":2797},{"t":32.3,"c":2635},{"t":32.4,"c":360},{"t":32.9,"c":425},{"t":32.1,"c":482},{"t":32.6,"c":540},{"t":32.0,"c":597},{"t":32.8,"c":655},{"t":32.3,"c":712},{"t":32.7,"c":770},{"t":32.2,"c":828},{"t":32.5,"c":886},{"t":32.9,"c":944},{"t":32.0,"c":1002},{"t":32.6,"c":1060},{"t":32.4,"c":1118},{"t":32.1,"c":1176},{"t":32.8,"c":1234},{"t":32.3,"c":1292},{"t":32.7,"c":1350},{"t":32.0,"c":1410},{"t":32.5,"c":1472},{"t":32.9,"c":1537},{"t":32.2,"c":1606},{"t":32.6,"c":1680},{"t":32.4,"c":1760},{"t":32.1,"c":1850},{"t":32.8,"c":1950},{"t":32.3,"c":2060},{"t":32.7,"c":2170},{"t":32.5,"c":650},{"t":32.1,"c":720},{"t":32.9,"c":780},{"t":32.0,"c":690},{"t":32.6,"c":610},{"t":32.2,"c":750},{"t":32.8,"c":700},{"t":32.4,"c":800},{"t":32.7,"c":560},{"t":32.3,"c":880},{"t":32.0,"c":1100},{"t":32.6,"c":1300},
{"t":33.0,"c":2638},{"t":33.5,"c":400},{"t":33.1,"c":460},{"t":33.8,"c":520},{"t":33.3,"c":580},{"t":33.6,"c":630},{"t":33.0,"c":680},{"t":33.9,"c":720},{"t":33.4,"c":760},{"t":33.2,"c":800},{"t":33.7,"c":850},{"t":33.1,"c":900},{"t":33.5,"c":960},{"t":33.8,"c":1030},{"t":33.3,"c":1110},{"t":33.6,"c":1190},{"t":33.0,"c":1270},{"t":33.9,"c":1360},{"t":33.4,"c":1460},{"t":33.2,"c":1570},{"t":33.7,"c":1690},{"t":33.1,"c":1820},{"t":33.5,"c":1950},{"t":33.8,"c":2080},{"t":33.3,"c":650},{"t":33.6,"c":700},{"t":33.0,"c":740},{"t":33.9,"c":610},{"t":33.4,"c":690},{"t":33.2,"c":730},{"t":33.7,"c":670},{"t":33.8,"c":770},{"t":33.1,"c":620},{"t":33.5,"c":710},{"t":33.6,"c":820},{"t":33.3,"c":560},{"t":33.9,"c":880},{"t":33.4,"c":1000},
{"t":34.3,"c":314},{"t":34.2,"c":450},{"t":34.7,"c":520},{"t":34.0,"c":580},{"t":34.5,"c":620},{"t":34.9,"c":660},{"t":34.3,"c":700},{"t":34.8,"c":740},{"t":34.1,"c":780},{"t":34.6,"c":830},{"t":34.4,"c":890},{"t":34.0,"c":960},{"t":34.7,"c":1040},{"t":34.2,"c":1130},{"t":34.5,"c":1230},{"t":34.9,"c":1340},{"t":34.3,"c":1460},{"t":34.8,"c":1590},{"t":34.6,"c":680},{"t":34.1,"c":720},{"t":34.4,"c":650},{"t":34.9,"c":760},{"t":34.0,"c":690},{"t":34.7,"c":610},{"t":34.2,"c":730},{"t":34.5,"c":800},{"t":34.8,"c":590},{"t":34.6,"c":2200},{"t":34.1,"c":1950},
{"t":35.4,"c":2525},{"t":35.15,"c":2085},{"t":35.2,"c":2009},{"t":35.5,"c":540},{"t":35.1,"c":600},{"t":35.8,"c":650},{"t":35.3,"c":700},{"t":35.6,"c":740},{"t":35.0,"c":780},{"t":35.9,"c":830},{"t":35.4,"c":900},{"t":35.2,"c":980},{"t":35.7,"c":1080},{"t":35.1,"c":1190},{"t":35.5,"c":1310},{"t":35.8,"c":1450},{"t":35.3,"c":1600},{"t":35.6,"c":660},{"t":35.0,"c":710},{"t":35.9,"c":620},{"t":35.4,"c":760},{"t":35.7,"c":580},{"t":35.2,"c":690},
{"t":36.4,"c":2347},{"t":36.6,"c":1883},{"t":36.2,"c":2092},{"t":36.4,"c":1496},{"t":36.1,"c":1595},{"t":36.3,"c":1291},{"t":36.2,"c":1202},{"t":36.55,"c":586},{"t":36.7,"c":569},{"t":36.9,"c":619},{"t":36.0,"c":700},{"t":36.5,"c":780},{"t":36.8,"c":880},{"t":36.3,"c":990},{"t":36.1,"c":640},{"t":36.6,"c":1100},{"t":36.9,"c":520},
{"t":37.7,"c":1927},{"t":37.9,"c":1182},{"t":37.4,"c":1066},{"t":37.5,"c":967},{"t":37.6,"c":999},{"t":37.85,"c":768},{"t":37.7,"c":675},{"t":37.3,"c":619},{"t":37.1,"c":720},{"t":37.5,"c":560},{"t":37.2,"c":850},
{"t":38.9,"c":1033},{"t":38.65,"c":476},{"t":39.35,"c":569},{"t":39.2,"c":536},{"t":38.2,"c":640},
{"t":-11.9,"c":188},{"t":-11.5,"c":263},{"t":-11.1,"c":117},{"t":-10.8,"c":205},{"t":-10.4,"c":154},{"t":-10.1,"c":83},{"t":-9.9,"c":296},{"t":-9.6,"c":167},{"t":-9.3,"c":228},{"t":-9.1,"c":142},{"t":-8.9,"c":109},{"t":-8.7,"c":347},{"t":-8.5,"c":254},{"t":-8.2,"c":198},{"t":-8.0,"c":127},{"t":-7.8,"c":376},{"t":-7.7,"c":163},{"t":-7.5,"c":281},{"t":-7.3,"c":94},{"t":-7.1,"c":239},{"t":-6.9,"c":318},{"t":-6.8,"c":147},{"t":-6.6,"c":206},{"t":-6.4,"c":269},{"t":-6.3,"c":88},{"t":-6.1,"c":173},{"t":-5.9,"c":297},{"t":-5.8,"c":124},{"t":-5.6,"c":236},{"t":-5.5,"c":348},{"t":-5.3,"c":189},{"t":-5.2,"c":109},{"t":-5.0,"c":274},{"t":-4.9,"c":214},{"t":-4.7,"c":157},{"t":-4.6,"c":366},{"t":-4.4,"c":246},{"t":-4.2,"c":93},{"t":-4.1,"c":199},{"t":-3.9,"c":283},{"t":-3.8,"c":176},{"t":-3.6,"c":128},{"t":-3.5,"c":258},{"t":-3.3,"c":337},{"t":-3.2,"c":217},{"t":-3.0,"c":162},{"t":-2.9,"c":396},{"t":-2.8,"c":264},{"t":-2.6,"c":181},{"t":-2.5,"c":116},{"t":-2.3,"c":229},{"t":-2.2,"c":309},{"t":-2.0,"c":196},{"t":-1.9,"c":421},{"t":-1.8,"c":142},{"t":-1.6,"c":274},{"t":-1.5,"c":209},{"t":-1.4,"c":358},{"t":-1.2,"c":118},{"t":-1.1,"c":243},{"t":-0.9,"c":311},{"t":-0.8,"c":184},{"t":-0.6,"c":267},{"t":-0.5,"c":396},{"t":-0.4,"c":135},{"t":-0.2,"c":223},{"t":-0.1,"c":342},{"t":0.0,"c":258},{"t":0.1,"c":196},{"t":0.2,"c":463},{"t":0.4,"c":289},{"t":0.5,"c":152},{"t":0.6,"c":377},{"t":0.8,"c":236},{"t":0.9,"c":311},{"t":1.0,"c":184},{"t":1.1,"c":427},{"t":1.3,"c":268},{"t":1.4,"c":345},{"t":1.5,"c":163},{"t":1.7,"c":297},{"t":1.8,"c":412},{"t":1.9,"c":228},{"t":2.0,"c":352},{"t":2.2,"c":186},{"t":2.3,"c":459},{"t":2.4,"c":311},{"t":2.6,"c":247},{"t":2.7,"c":392},{"t":2.9,"c":174},{"t":3.0,"c":286},{"t":3.1,"c":521},{"t":3.2,"c":362},{"t":3.4,"c":243},{"t":3.5,"c":437},{"t":3.6,"c":174},{"t":3.8,"c":571},{"t":3.9,"c":297},{"t":4.0,"c":408},
{"t":-11.7,"c":97},{"t":-11.3,"c":228},{"t":-10.9,"c":56},{"t":-10.6,"c":281},{"t":-10.3,"c":172},{"t":-9.8,"c":66},{"t":-9.4,"c":187},{"t":-9.0,"c":246},{"t":-8.8,"c":74},{"t":-8.4,"c":293},{"t":-8.1,"c":223},{"t":-7.9,"c":158},{"t":-7.6,"c":246},{"t":-7.4,"c":318},{"t":-7.2,"c":187},{"t":-7.0,"c":134},{"t":-6.7,"c":252},{"t":-6.5,"c":79},{"t":-6.2,"c":196},{"t":-6.0,"c":286},{"t":-5.7,"c":218},{"t":-5.4,"c":81},{"t":-5.1,"c":167},{"t":-4.8,"c":292},{"t":-4.5,"c":132},{"t":-4.3,"c":327},{"t":-4.0,"c":214},{"t":-3.7,"c":363},{"t":-3.4,"c":106},{"t":-3.1,"c":278},{"t":-2.7,"c":167},{"t":-2.4,"c":274},{"t":-2.1,"c":138},{"t":-1.7,"c":326},{"t":-1.3,"c":198},{"t":-1.0,"c":287},{"t":-0.7,"c":156},{"t":-0.3,"c":264},{"t":0.3,"c":116},{"t":0.7,"c":287},{"t":1.2,"c":169},{"t":1.6,"c":384},{"t":2.1,"c":258},{"t":2.5,"c":143},{"t":2.8,"c":323},{"t":3.3,"c":211},{"t":3.7,"c":312},{"t":4.1,"c":176},{"t":4.3,"c":263},{"t":4.6,"c":432},{"t":4.8,"c":127},{"t":4.9,"c":356},
{"t":-4.95,"c":247},{"t":-4.15,"c":316},{"t":-3.65,"c":191},{"t":-3.15,"c":243},{"t":-2.65,"c":302},{"t":-2.15,"c":221},{"t":-1.65,"c":187},{"t":-1.15,"c":354},{"t":-0.65,"c":276},{"t":-0.15,"c":208},{"t":0.35,"c":341},{"t":0.85,"c":189},{"t":1.35,"c":279},{"t":1.85,"c":164},{"t":2.35,"c":398},{"t":2.85,"c":243},{"t":3.35,"c":176},{"t":3.85,"c":354},{"t":4.35,"c":302},{"t":4.85,"c":219},{"t":-4.45,"c":151},{"t":-3.95,"c":208},{"t":-3.45,"c":271},{"t":-2.95,"c":136},{"t":-2.45,"c":351},{"t":-1.95,"c":276},{"t":-1.45,"c":228},{"t":-0.95,"c":147},{"t":-0.45,"c":319},{"t":0.15,"c":248},{"t":0.65,"c":418},{"t":1.15,"c":312},{"t":1.65,"c":223},{"t":2.15,"c":277},{"t":2.65,"c":336},{"t":3.15,"c":147},{"t":3.65,"c":451},{"t":4.15,"c":238},{"t":4.65,"c":512},{"t":5.0,"c":287},
{"t":5.1,"c":412},{"t":5.3,"c":267},{"t":5.5,"c":536},{"t":5.7,"c":178},{"t":5.9,"c":689},{"t":6.1,"c":347},{"t":6.3,"c":452},{"t":6.5,"c":231},{"t":6.7,"c":598},{"t":6.9,"c":379},{"t":7.0,"c":722},{"t":7.2,"c":461},{"t":7.4,"c":293},{"t":7.6,"c":604},{"t":7.8,"c":187},{"t":8.0,"c":382},{"t":8.2,"c":711},{"t":8.4,"c":544},{"t":8.6,"c":268},{"t":8.8,"c":833},{"t":9.0,"c":476},{"t":9.2,"c":612},{"t":9.4,"c":337},{"t":9.6,"c":892},{"t":9.8,"c":543},{"t":10.0,"c":226},{"t":10.2,"c":667},{"t":10.4,"c":809},{"t":10.6,"c":412},{"t":10.8,"c":577},{"t":11.0,"c":936},{"t":11.2,"c":288},{"t":11.4,"c":754},{"t":11.6,"c":503},{"t":11.8,"c":642},{"t":12.0,"c":378},{"t":12.2,"c":911},{"t":12.4,"c":567},{"t":12.6,"c":738},{"t":12.8,"c":246},{"t":13.0,"c":824},{"t":13.2,"c":617},{"t":13.4,"c":436},{"t":13.6,"c":976},{"t":13.8,"c":702},{"t":14.0,"c":541},{"t":14.2,"c":1012},{"t":14.4,"c":393},{"t":14.6,"c":857},{"t":14.8,"c":648},{"t":15.0,"c":277},{"t":15.2,"c":731},{"t":15.4,"c":912},{"t":15.6,"c":468},{"t":15.8,"c":1044},{"t":16.0,"c":589},{"t":16.2,"c":822},{"t":16.4,"c":342},{"t":16.6,"c":963},{"t":16.8,"c":711},{"t":17.0,"c":487},{"t":17.2,"c":1096},{"t":17.4,"c":658},{"t":17.6,"c":854},{"t":17.8,"c":312},{"t":18.0,"c":934},{"t":18.2,"c":721},{"t":18.4,"c":1118},{"t":18.6,"c":526},{"t":18.8,"c":846},{"t":19.0,"c":619},{"t":19.2,"c":1057},{"t":19.4,"c":397},{"t":19.6,"c":908},{"t":19.8,"c":743},
{"t":5.2,"c":97},{"t":5.6,"c":362},{"t":6.0,"c":148},{"t":6.4,"c":511},{"t":6.8,"c":84},{"t":7.3,"c":297},{"t":7.7,"c":413},{"t":8.1,"c":156},{"t":8.5,"c":478},{"t":8.9,"c":219},{"t":9.3,"c":132},{"t":9.7,"c":398},{"t":10.1,"c":506},{"t":10.5,"c":118},{"t":10.9,"c":347},{"t":11.3,"c":441},{"t":11.7,"c":172},{"t":12.1,"c":289},{"t":12.5,"c":106},{"t":12.9,"c":462},{"t":13.3,"c":214},{"t":13.7,"c":351},{"t":14.1,"c":128},{"t":14.5,"c":279},{"t":14.9,"c":431},{"t":15.3,"c":187},{"t":15.7,"c":343},{"t":16.1,"c":116},{"t":16.5,"c":438},{"t":16.9,"c":268},{"t":17.3,"c":191},{"t":17.7,"c":402},{"t":18.1,"c":137},{"t":18.5,"c":318},{"t":18.9,"c":226},{"t":19.3,"c":487},{"t":19.7,"c":159},
{"t":5.45,"c":783},{"t":5.95,"c":934},{"t":6.45,"c":1047},{"t":6.95,"c":812},{"t":7.45,"c":1132},{"t":7.95,"c":976},{"t":8.45,"c":1198},{"t":8.75,"c":1042},{"t":9.15,"c":1311},{"t":9.55,"c":1176},{"t":9.95,"c":1038},{"t":10.35,"c":1377},{"t":10.75,"c":1212},{"t":11.15,"c":1096},{"t":11.55,"c":1453},{"t":11.95,"c":1287},{"t":12.35,"c":1164},{"t":12.75,"c":1528},{"t":13.15,"c":1372},{"t":13.55,"c":1243},{"t":13.95,"c":1604},{"t":14.35,"c":1451},{"t":14.75,"c":1308},{"t":15.15,"c":1187},{"t":15.55,"c":1672},{"t":15.95,"c":1526},{"t":16.35,"c":1392},{"t":16.75,"c":1251},{"t":17.15,"c":1747},{"t":17.55,"c":1598},{"t":17.95,"c":1468},{"t":18.35,"c":1339},{"t":18.75,"c":1821},{"t":19.15,"c":1674},{"t":19.55,"c":1543},{"t":19.95,"c":1411},
{"t":7.15,"c":2},{"t":8.25,"c":6},{"t":9.35,"c":3},{"t":10.45,"c":8},{"t":11.55,"c":4},{"t":12.65,"c":7},{"t":13.75,"c":2},{"t":14.85,"c":9},{"t":15.95,"c":5},{"t":16.05,"c":3},{"t":17.25,"c":8},{"t":18.35,"c":4},{"t":19.45,"c":6},{"t":20.55,"c":3},{"t":21.65,"c":9},{"t":22.75,"c":5},{"t":23.85,"c":2},{"t":24.95,"c":7},{"t":25.35,"c":4},{"t":26.15,"c":6},{"t":10.85,"c":15},{"t":13.25,"c":18},{"t":16.45,"c":16},{"t":19.85,"c":14},{"t":22.35,"c":17},{"t":24.45,"c":13},
{"t":20.05,"c":812},{"t":20.25,"c":1124},{"t":20.45,"c":637},{"t":20.65,"c":1387},{"t":20.85,"c":943},{"t":21.05,"c":1256},{"t":21.25,"c":716},{"t":21.45,"c":1512},{"t":21.65,"c":1043},{"t":21.85,"c":588},{"t":22.05,"c":1334},{"t":22.25,"c":867},{"t":22.45,"c":1189},{"t":22.65,"c":1621},{"t":22.85,"c":752},{"t":23.05,"c":1078},{"t":23.25,"c":1413},{"t":23.45,"c":934},{"t":23.65,"c":1744},{"t":23.85,"c":1237},{"t":24.05,"c":681},{"t":24.25,"c":1556},{"t":24.45,"c":1112},{"t":24.65,"c":1867},{"t":24.85,"c":893},{"t":25.05,"c":1341},{"t":25.25,"c":1682},{"t":25.45,"c":1023},{"t":25.65,"c":2012},{"t":25.85,"c":1244},{"t":26.05,"c":778},{"t":26.25,"c":1487},{"t":26.45,"c":1859},{"t":26.65,"c":1134},{"t":26.85,"c":2133},{"t":27.05,"c":956},{"t":27.25,"c":1622},{"t":27.45,"c":1288},{"t":27.65,"c":1977},{"t":27.85,"c":1074},{"t":28.05,"c":1519},{"t":28.25,"c":856},{"t":28.45,"c":1793},{"t":28.65,"c":1162},{"t":28.85,"c":1411},{"t":29.05,"c":993},{"t":29.25,"c":1674},{"t":29.45,"c":1228},{"t":29.65,"c":841},{"t":29.85,"c":1557},
{"t":20.15,"c":447},{"t":20.75,"c":283},{"t":21.15,"c":392},{"t":21.75,"c":516},{"t":22.15,"c":338},{"t":22.55,"c":461},{"t":23.15,"c":377},{"t":23.55,"c":552},{"t":24.15,"c":418},{"t":24.55,"c":327},{"t":25.15,"c":493},{"t":25.55,"c":398},{"t":26.35,"c":521},{"t":26.75,"c":437},{"t":27.15,"c":368},{"t":27.55,"c":582},{"t":28.15,"c":412},{"t":28.55,"c":533},{"t":29.15,"c":462},{"t":29.55,"c":387},
{"t":20.35,"c":1723},{"t":20.95,"c":1981},{"t":21.35,"c":1846},{"t":21.95,"c":2187},{"t":22.35,"c":1958},{"t":22.95,"c":2243},{"t":23.35,"c":2091},{"t":23.75,"c":1889},{"t":24.35,"c":2307},{"t":24.75,"c":2146},{"t":25.35,"c":2271},{"t":25.75,"c":2389},{"t":26.15,"c":2204},{"t":26.55,"c":2357},{"t":27.35,"c":2262},{"t":27.75,"c":2098},{"t":28.35,"c":2186},{"t":28.75,"c":1932},{"t":29.35,"c":2054},{"t":29.75,"c":1861},
{"t":30.15,"c":563},{"t":30.45,"c":1043},{"t":30.85,"c":912},{"t":31.05,"c":743},{"t":31.35,"c":588},{"t":31.65,"c":812},{"t":31.95,"c":691},{"t":32.15,"c":627},{"t":32.45,"c":742},{"t":32.75,"c":683},{"t":33.05,"c":598},{"t":33.25,"c":774},{"t":33.55,"c":651},{"t":33.85,"c":716},{"t":34.05,"c":623},{"t":34.25,"c":687},{"t":34.45,"c":748},{"t":34.65,"c":636},{"t":34.85,"c":712},{"t":35.05,"c":664},{"t":35.25,"c":621},{"t":35.45,"c":733},{"t":35.65,"c":689},{"t":35.85,"c":597},{"t":30.55,"c":1512},{"t":31.25,"c":1247},{"t":31.75,"c":1087},{"t":32.35,"c":981},{"t":32.85,"c":1164},{"t":33.65,"c":913}
]},
"mark": {"type": "circle", "size": 14, "opacity": 0.56, "color": "#2962a8"},
"encoding": {
"x": {"field": "t", "type": "quantitative", "title": "Temperature"},
"y": {"field": "c", "type": "quantitative", "title": "Hourly Bike Count"}
}
}
]
}
